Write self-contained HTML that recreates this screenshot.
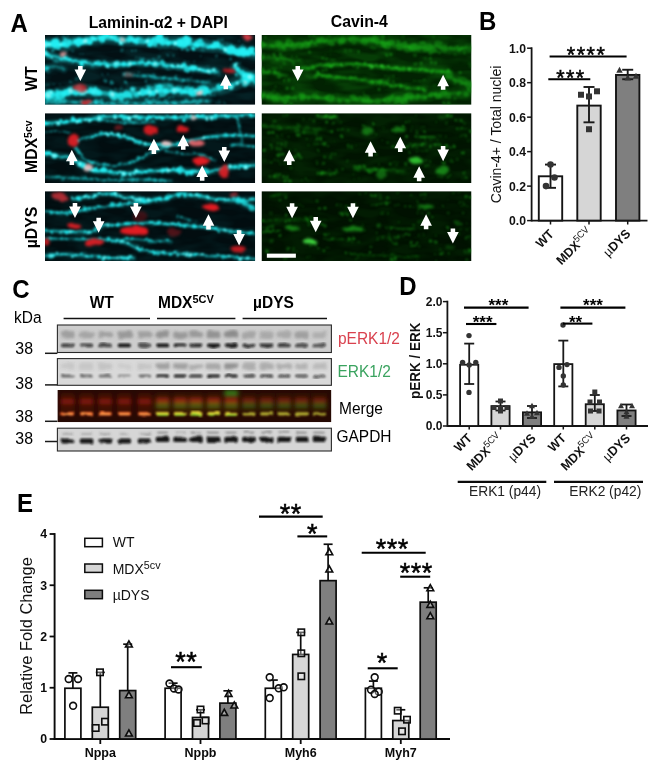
<!DOCTYPE html>
<html lang="en"><head><meta charset="utf-8"><title>Figure</title>
<style>
html,body{margin:0;padding:0;background:#fff;}
body{width:666px;height:774px;overflow:hidden;}
svg{display:block;filter:blur(0.35px);font-family:'Liberation Sans', sans-serif;}
</style></head>
<body>
<svg width="666" height="774" viewBox="0 0 666 774">
<rect width="666" height="774" fill="#fff"/>
<text x="10.4" y="32" font-size="24" font-weight="bold" text-anchor="start" fill="#000" transform="translate(10.4 32) scale(1 1.04) translate(-10.4 -32)">A</text>
<text x="479" y="30.2" font-size="24" font-weight="bold" text-anchor="start" fill="#000" transform="translate(479 30.2) scale(1 1.04) translate(-479 -30.2)">B</text>
<text x="12.2" y="297.8" font-size="24" font-weight="bold" text-anchor="start" fill="#000" transform="translate(12.2 297.8) scale(1 1.04) translate(-12.2 -297.8)">C</text>
<text x="399.2" y="295.2" font-size="24" font-weight="bold" text-anchor="start" fill="#000" transform="translate(399.2 295.2) scale(1 1.04) translate(-399.2 -295.2)">D</text>
<text x="17" y="512.3" font-size="24" font-weight="bold" text-anchor="start" fill="#000" transform="translate(17 512.3) scale(1 1.04) translate(-17 -512.3)">E</text>
<text x="158.3" y="28" font-size="15.7" font-weight="bold" text-anchor="middle" fill="#000" transform="translate(158.3 28) scale(1 1.04) translate(-158.3 -28)">Laminin-α2 + DAPI</text>
<text x="359.4" y="27.5" font-size="15.8" font-weight="bold" text-anchor="middle" fill="#000" transform="translate(359.4 27.5) scale(1 1.04) translate(-359.4 -27.5)">Cavin-4</text>
<text x="37" y="91" font-size="16" font-weight="bold" text-anchor="start" fill="#000" transform="rotate(-90 37 91) translate(37 91) scale(1 1.04) translate(-37 -91)">WT</text>
<text x="37.4" y="173" font-size="15.8" font-weight="bold" transform="rotate(-90 37.4 173) translate(37.4 173) scale(1 1.04) translate(-37.4 -173)">MDX<tspan font-size="10.5" dy="-5.3">5cv</tspan></text>
<text x="37.4" y="248.3" font-size="15.8" font-weight="bold" text-anchor="start" fill="#000" transform="rotate(-90 37.4 248.3) translate(37.4 248.3) scale(1 1.04) translate(-37.4 -248.3)">µDYS</text>
<defs><filter id="fb" x="-5%" y="-20%" width="110%" height="140%" color-interpolation-filters="sRGB"><feTurbulence type="fractalNoise" baseFrequency="0.03 0.05" numOctaves="2" seed="7" result="n"/><feDisplacementMap in="SourceGraphic" in2="n" scale="10" xChannelSelector="R" yChannelSelector="G" result="d"/><feGaussianBlur in="d" stdDeviation="4.2"/></filter><filter id="fh" x="0" y="0" width="100%" height="100%" color-interpolation-filters="sRGB"><feTurbulence type="fractalNoise" baseFrequency="0.012 0.035" numOctaves="2" seed="11" result="n"/><feColorMatrix in="n" type="matrix" values="0 0 0 0 0  0 0 0 0 0  0 0 0 0 0  0 3.0 0 0 -1.1" result="m"/><feComposite in="SourceGraphic" in2="m" operator="in"/></filter><filter id="fr" x="-30%" y="-30%" width="160%" height="160%" color-interpolation-filters="sRGB"><feTurbulence type="fractalNoise" baseFrequency="0.03" numOctaves="2" seed="5" result="n"/><feDisplacementMap in="SourceGraphic" in2="n" scale="16" xChannelSelector="R" yChannelSelector="G" result="d"/><feGaussianBlur in="d" stdDeviation="5"/></filter><filter id="fa" x="-20%" y="-20%" width="140%" height="140%"><feGaussianBlur stdDeviation="1.3"/></filter><clipPath id="cpA1"><rect x="45" y="35" width="210.2" height="69.8"/></clipPath><clipPath id="cpA2"><rect x="45" y="113.2" width="210.2" height="69.8"/></clipPath><clipPath id="cpA3"><rect x="45" y="191.2" width="210.2" height="69.8"/></clipPath><clipPath id="cpB1"><rect x="261.5" y="35" width="210" height="69.8"/></clipPath><clipPath id="cpB2"><rect x="261.5" y="113.2" width="210" height="69.8"/></clipPath><clipPath id="cpB3"><rect x="261.5" y="191.2" width="210" height="69.8"/></clipPath></defs><g clip-path="url(#cpA1)"><rect x="45" y="35" width="210.2" height="69.8" fill="#031014"/><g transform="translate(45 35) scale(0.31562)"><rect x="0" y="0" width="666" height="222" fill="#22f0f4" fill-opacity="0.08" filter="url(#fh)"/><g filter="url(#fb)"><rect x="-40" y="-40" width="746" height="302" fill="none"/><path d="M0.0 25.0C8.3 25.8 33.3 30.5 50.0 30.0C66.7 29.5 83.3 25.0 100.0 22.0C116.7 19.0 133.3 14.0 150.0 12.0C166.7 10.0 185.0 9.5 200.0 10.0C215.0 10.5 226.7 13.7 240.0 15.0C253.3 16.3 265.0 17.2 280.0 18.0C295.0 18.8 313.3 18.8 330.0 20.0C346.7 21.2 365.0 24.7 380.0 25.0C395.0 25.3 405.0 21.2 420.0 22.0C435.0 22.8 453.3 27.8 470.0 30.0C486.7 32.2 505.0 33.3 520.0 35.0C535.0 36.7 546.7 37.8 560.0 40.0C573.3 42.2 586.7 45.5 600.0 48.0C613.3 50.5 629.0 53.0 640.0 55.0C651.0 57.0 661.7 59.2 666.0 60.0" fill="none" stroke="#22f0f4" stroke-width="38.6" stroke-opacity="0.19" stroke-linecap="round" stroke-linejoin="round"/><path d="M0.0 25.0C8.3 25.8 33.3 30.5 50.0 30.0C66.7 29.5 83.3 25.0 100.0 22.0C116.7 19.0 133.3 14.0 150.0 12.0C166.7 10.0 185.0 9.5 200.0 10.0C215.0 10.5 226.7 13.7 240.0 15.0C253.3 16.3 265.0 17.2 280.0 18.0C295.0 18.8 313.3 18.8 330.0 20.0C346.7 21.2 365.0 24.7 380.0 25.0C395.0 25.3 405.0 21.2 420.0 22.0C435.0 22.8 453.3 27.8 470.0 30.0C486.7 32.2 505.0 33.3 520.0 35.0C535.0 36.7 546.7 37.8 560.0 40.0C573.3 42.2 586.7 45.5 600.0 48.0C613.3 50.5 629.0 53.0 640.0 55.0C651.0 57.0 661.7 59.2 666.0 60.0" fill="none" stroke="#22f0f4" stroke-width="14.0" stroke-opacity="0.66" stroke-linecap="round" stroke-linejoin="round"/><path d="M0.0 60.0C10.0 62.5 41.7 70.8 60.0 75.0C78.3 79.2 93.3 82.2 110.0 85.0C126.7 87.8 141.7 90.3 160.0 92.0C178.3 93.7 200.0 95.3 220.0 95.0C240.0 94.7 260.0 91.2 280.0 90.0C300.0 88.8 320.0 86.7 340.0 88.0C360.0 89.3 380.0 95.2 400.0 98.0C420.0 100.8 441.7 102.7 460.0 105.0C478.3 107.3 495.8 109.8 510.0 112.0C524.2 114.2 539.2 117.0 545.0 118.0" fill="none" stroke="#22f0f4" stroke-width="26.7" stroke-opacity="0.18" stroke-linecap="round" stroke-linejoin="round"/><path d="M0.0 60.0C10.0 62.5 41.7 70.8 60.0 75.0C78.3 79.2 93.3 82.2 110.0 85.0C126.7 87.8 141.7 90.3 160.0 92.0C178.3 93.7 200.0 95.3 220.0 95.0C240.0 94.7 260.0 91.2 280.0 90.0C300.0 88.8 320.0 86.7 340.0 88.0C360.0 89.3 380.0 95.2 400.0 98.0C420.0 100.8 441.7 102.7 460.0 105.0C478.3 107.3 495.8 109.8 510.0 112.0C524.2 114.2 539.2 117.0 545.0 118.0" fill="none" stroke="#22f0f4" stroke-width="9.7" stroke-opacity="0.63" stroke-linecap="round" stroke-linejoin="round"/><path d="M250.0 125.0C258.3 125.8 281.7 128.3 300.0 130.0C318.3 131.7 340.0 133.3 360.0 135.0C380.0 136.7 400.0 137.8 420.0 140.0C440.0 142.2 463.3 146.3 480.0 148.0C496.7 149.7 513.3 149.7 520.0 150.0" fill="none" stroke="#22f0f4" stroke-width="17.8" stroke-opacity="0.10" stroke-linecap="round" stroke-linejoin="round"/><path d="M250.0 125.0C258.3 125.8 281.7 128.3 300.0 130.0C318.3 131.7 340.0 133.3 360.0 135.0C380.0 136.7 400.0 137.8 420.0 140.0C440.0 142.2 463.3 146.3 480.0 148.0C496.7 149.7 513.3 149.7 520.0 150.0" fill="none" stroke="#22f0f4" stroke-width="6.5" stroke-opacity="0.35" stroke-linecap="round" stroke-linejoin="round"/><path d="M0.0 190.0C8.3 189.2 33.3 187.0 50.0 185.0C66.7 183.0 81.7 178.8 100.0 178.0C118.3 177.2 138.3 178.0 160.0 180.0C181.7 182.0 206.7 189.2 230.0 190.0C253.3 190.8 278.3 186.7 300.0 185.0C321.7 183.3 340.0 181.2 360.0 180.0C380.0 178.8 400.0 178.0 420.0 178.0C440.0 178.0 460.0 181.0 480.0 180.0C500.0 179.0 520.0 176.2 540.0 172.0C560.0 167.8 583.3 160.3 600.0 155.0C616.7 149.7 629.0 144.2 640.0 140.0C651.0 135.8 661.7 131.7 666.0 130.0" fill="none" stroke="#22f0f4" stroke-width="41.6" stroke-opacity="0.16" stroke-linecap="round" stroke-linejoin="round"/><path d="M0.0 190.0C8.3 189.2 33.3 187.0 50.0 185.0C66.7 183.0 81.7 178.8 100.0 178.0C118.3 177.2 138.3 178.0 160.0 180.0C181.7 182.0 206.7 189.2 230.0 190.0C253.3 190.8 278.3 186.7 300.0 185.0C321.7 183.3 340.0 181.2 360.0 180.0C380.0 178.8 400.0 178.0 420.0 178.0C440.0 178.0 460.0 181.0 480.0 180.0C500.0 179.0 520.0 176.2 540.0 172.0C560.0 167.8 583.3 160.3 600.0 155.0C616.7 149.7 629.0 144.2 640.0 140.0C651.0 135.8 661.7 131.7 666.0 130.0" fill="none" stroke="#22f0f4" stroke-width="15.1" stroke-opacity="0.56" stroke-linecap="round" stroke-linejoin="round"/><path d="M600.0 105.0C606.7 108.8 629.0 120.5 640.0 128.0C651.0 135.5 661.7 146.3 666.0 150.0" fill="none" stroke="#22f0f4" stroke-width="35.6" stroke-opacity="0.16" stroke-linecap="round" stroke-linejoin="round"/><path d="M600.0 105.0C606.7 108.8 629.0 120.5 640.0 128.0C651.0 135.5 661.7 146.3 666.0 150.0" fill="none" stroke="#22f0f4" stroke-width="13.0" stroke-opacity="0.56" stroke-linecap="round" stroke-linejoin="round"/><path d="M0.0 105.0C5.0 104.2 20.0 99.2 30.0 100.0C40.0 100.8 55.0 108.3 60.0 110.0" fill="none" stroke="#22f0f4" stroke-width="23.8" stroke-opacity="0.10" stroke-linecap="round" stroke-linejoin="round"/><path d="M0.0 105.0C5.0 104.2 20.0 99.2 30.0 100.0C40.0 100.8 55.0 108.3 60.0 110.0" fill="none" stroke="#22f0f4" stroke-width="8.6" stroke-opacity="0.35" stroke-linecap="round" stroke-linejoin="round"/><path d="M330.0 165.0C338.3 164.2 363.3 159.5 380.0 160.0C396.7 160.5 421.7 166.7 430.0 168.0" fill="none" stroke="#22f0f4" stroke-width="23.8" stroke-opacity="0.09" stroke-linecap="round" stroke-linejoin="round"/><path d="M330.0 165.0C338.3 164.2 363.3 159.5 380.0 160.0C396.7 160.5 421.7 166.7 430.0 168.0" fill="none" stroke="#22f0f4" stroke-width="8.6" stroke-opacity="0.32" stroke-linecap="round" stroke-linejoin="round"/><path d="M0.0 215.0C13.3 214.5 46.7 211.8 80.0 212.0C113.3 212.2 146.7 215.7 200.0 216.0C253.3 216.3 346.7 215.0 400.0 214.0C453.3 213.0 500.0 210.7 520.0 210.0" fill="none" stroke="#22f0f4" stroke-width="23.8" stroke-opacity="0.09" stroke-linecap="round" stroke-linejoin="round"/><path d="M0.0 215.0C13.3 214.5 46.7 211.8 80.0 212.0C113.3 212.2 146.7 215.7 200.0 216.0C253.3 216.3 346.7 215.0 400.0 214.0C453.3 213.0 500.0 210.7 520.0 210.0" fill="none" stroke="#22f0f4" stroke-width="8.6" stroke-opacity="0.32" stroke-linecap="round" stroke-linejoin="round"/><path d="M-2 31h.1M68 26h.1M349 22h.1" fill="none" stroke="#22f0f4" stroke-width="29.8" stroke-opacity="0.76" stroke-linecap="round"/><path d="M-2 31h.1M429 25h.1M450 18h.1M630 54h.1" fill="none" stroke="#b4ffff" stroke-width="16.4" stroke-opacity="0.76" stroke-linecap="round"/><path d="M11 30h.1M48 29h.1M58 30h.1M142 23h.1M239 24h.1M279 14h.1M287 19h.1M323 19h.1M332 30h.1M392 26h.1M413 26h.1M481 32h.1M531 36h.1M570 47h.1M642 59h.1" fill="none" stroke="#22f0f4" stroke-width="17.6" stroke-opacity="0.95" stroke-linecap="round"/><path d="M11 30h.1M48 29h.1M97 20h.1M118 22h.1M152 11h.1M239 24h.1M323 19h.1M413 26h.1M570 47h.1" fill="none" stroke="#b4ffff" stroke-width="9.7" stroke-opacity="0.76" stroke-linecap="round"/><path d="M17 31h.1M159 14h.1M199 2h.1M210 5h.1M227 17h.1M468 44h.1M519 38h.1" fill="none" stroke="#22f0f4" stroke-width="12.3" stroke-opacity="0.95" stroke-linecap="round"/><path d="M17 31h.1M210 5h.1M420 23h.1M578 53h.1" fill="none" stroke="#b4ffff" stroke-width="6.8" stroke-opacity="0.76" stroke-linecap="round"/><path d="M33 25h.1M108 23h.1M364 10h.1M429 25h.1M441 26h.1M450 18h.1M590 47h.1M630 54h.1" fill="none" stroke="#22f0f4" stroke-width="29.8" stroke-opacity="0.95" stroke-linecap="round"/><path d="M39 36h.1M128 19h.1M271 13h.1M491 26h.1M622 50h.1" fill="none" stroke="#22f0f4" stroke-width="23.7" stroke-opacity="0.76" stroke-linecap="round"/><path d="M97 20h.1M118 22h.1M152 11h.1M191 -0h.1M218 8h.1M338 23h.1M373 25h.1M382 19h.1" fill="none" stroke="#22f0f4" stroke-width="17.6" stroke-opacity="0.76" stroke-linecap="round"/><path d="M128 19h.1" fill="none" stroke="#b4ffff" stroke-width="13.0" stroke-opacity="0.76" stroke-linecap="round"/><path d="M181 11h.1M543 29h.1M609 57h.1M654 48h.1" fill="none" stroke="#22f0f4" stroke-width="23.7" stroke-opacity="0.95" stroke-linecap="round"/><path d="M297 12h.1M420 23h.1M549 41h.1M578 53h.1" fill="none" stroke="#22f0f4" stroke-width="12.3" stroke-opacity="0.76" stroke-linecap="round"/><path d="M-0 57h.1M228 91h.1M269 92h.1M348 92h.1M450 109h.1" fill="none" stroke="#22f0f4" stroke-width="20.7" stroke-opacity="0.72" stroke-linecap="round"/><path d="M-0 57h.1M228 91h.1M269 92h.1M348 92h.1M469 104h.1" fill="none" stroke="#b4ffff" stroke-width="11.4" stroke-opacity="0.72" stroke-linecap="round"/><path d="M11 66h.1M169 88h.1M193 92h.1M322 91h.1M373 86h.1M521 115h.1" fill="none" stroke="#22f0f4" stroke-width="16.4" stroke-opacity="0.72" stroke-linecap="round"/><path d="M21 72h.1M49 75h.1M262 91h.1" fill="none" stroke="#22f0f4" stroke-width="8.5" stroke-opacity="0.72" stroke-linecap="round"/><path d="M21 72h.1M387 100h.1" fill="none" stroke="#b4ffff" stroke-width="4.7" stroke-opacity="0.72" stroke-linecap="round"/><path d="M60 70h.1M78 78h.1M178 93h.1M198 100h.1M219 90h.1M282 89h.1M329 87h.1M340 89h.1M402 97h.1M421 98h.1M433 99h.1M479 104h.1M489 109h.1M536 109h.1" fill="none" stroke="#22f0f4" stroke-width="12.2" stroke-opacity="0.9" stroke-linecap="round"/><path d="M60 70h.1M128 85h.1M160 89h.1M198 100h.1M219 90h.1M329 87h.1M402 97h.1M408 100h.1M421 98h.1M433 99h.1M489 109h.1M500 112h.1M510 116h.1M536 109h.1" fill="none" stroke="#b4ffff" stroke-width="6.7" stroke-opacity="0.72" stroke-linecap="round"/><path d="M69 75h.1M97 83h.1M112 89h.1M128 85h.1M160 89h.1M301 87h.1M377 97h.1M408 100h.1M500 112h.1M510 116h.1" fill="none" stroke="#22f0f4" stroke-width="12.2" stroke-opacity="0.72" stroke-linecap="round"/><path d="M87 85h.1M311 85h.1M387 100h.1M459 106h.1" fill="none" stroke="#22f0f4" stroke-width="8.5" stroke-opacity="0.9" stroke-linecap="round"/><path d="M116 92h.1M249 92h.1M442 93h.1" fill="none" stroke="#22f0f4" stroke-width="16.4" stroke-opacity="0.9" stroke-linecap="round"/><path d="M469 104h.1" fill="none" stroke="#22f0f4" stroke-width="20.7" stroke-opacity="0.9" stroke-linecap="round"/><path d="M521 115h.1" fill="none" stroke="#b4ffff" stroke-width="9.0" stroke-opacity="0.72" stroke-linecap="round"/><path d="M252 124h.1M312 129h.1" fill="none" stroke="#22f0f4" stroke-width="10.9" stroke-opacity="0.5" stroke-linecap="round"/><path d="M261 122h.1M483 146h.1" fill="none" stroke="#22f0f4" stroke-width="8.1" stroke-opacity="0.4" stroke-linecap="round"/><path d="M270 124h.1M279 126h.1M332 132h.1M392 141h.1M397 140h.1M417 140h.1M510 153h.1" fill="none" stroke="#22f0f4" stroke-width="8.1" stroke-opacity="0.5" stroke-linecap="round"/><path d="M292 130h.1M359 137h.1" fill="none" stroke="#22f0f4" stroke-width="5.7" stroke-opacity="0.4" stroke-linecap="round"/><path d="M320 132h.1M453 139h.1" fill="none" stroke="#22f0f4" stroke-width="5.7" stroke-opacity="0.5" stroke-linecap="round"/><path d="M343 131h.1M350 134h.1" fill="none" stroke="#22f0f4" stroke-width="13.8" stroke-opacity="0.4" stroke-linecap="round"/><path d="M377 137h.1" fill="none" stroke="#22f0f4" stroke-width="13.8" stroke-opacity="0.5" stroke-linecap="round"/><path d="M413 134h.1M439 143h.1M499 150h.1" fill="none" stroke="#22f0f4" stroke-width="10.9" stroke-opacity="0.4" stroke-linecap="round"/><path d="M-3 192h.1M38 178h.1M523 180h.1" fill="none" stroke="#22f0f4" stroke-width="13.2" stroke-opacity="0.64" stroke-linecap="round"/><path d="M11 191h.1M49 191h.1M109 176h.1M469 180h.1M501 175h.1M647 137h.1" fill="none" stroke="#22f0f4" stroke-width="32.1" stroke-opacity="0.8" stroke-linecap="round"/><path d="M11 191h.1M109 176h.1M160 179h.1" fill="none" stroke="#b4ffff" stroke-width="17.7" stroke-opacity="0.64" stroke-linecap="round"/><path d="M19 182h.1M61 186h.1M98 180h.1M119 186h.1M130 179h.1M172 184h.1M342 185h.1M351 178h.1M388 176h.1M431 180h.1M512 173h.1M551 164h.1M589 165h.1" fill="none" stroke="#22f0f4" stroke-width="18.9" stroke-opacity="0.8" stroke-linecap="round"/><path d="M19 182h.1M119 186h.1M130 179h.1M278 173h.1M351 178h.1M571 164h.1M589 165h.1" fill="none" stroke="#b4ffff" stroke-width="10.4" stroke-opacity="0.64" stroke-linecap="round"/><path d="M33 196h.1M81 176h.1M450 175h.1M634 151h.1" fill="none" stroke="#22f0f4" stroke-width="25.5" stroke-opacity="0.64" stroke-linecap="round"/><path d="M70 181h.1M151 177h.1M213 187h.1M219 192h.1M242 196h.1M259 188h.1M313 183h.1M329 181h.1M362 167h.1M411 175h.1" fill="none" stroke="#22f0f4" stroke-width="25.5" stroke-opacity="0.8" stroke-linecap="round"/><path d="M81 176h.1M151 177h.1M213 187h.1M329 181h.1M411 175h.1M634 151h.1" fill="none" stroke="#b4ffff" stroke-width="14.0" stroke-opacity="0.64" stroke-linecap="round"/><path d="M143 175h.1M278 173h.1M290 191h.1M322 181h.1M463 183h.1M490 171h.1M571 164h.1M637 129h.1" fill="none" stroke="#22f0f4" stroke-width="18.9" stroke-opacity="0.64" stroke-linecap="round"/><path d="M160 179h.1M372 181h.1" fill="none" stroke="#22f0f4" stroke-width="32.1" stroke-opacity="0.64" stroke-linecap="round"/><path d="M271 195h.1M299 184h.1M381 178h.1M421 176h.1M442 181h.1M479 176h.1M609 152h.1M656 133h.1" fill="none" stroke="#22f0f4" stroke-width="13.2" stroke-opacity="0.8" stroke-linecap="round"/><path d="M299 184h.1M421 176h.1M479 176h.1M609 152h.1M656 133h.1" fill="none" stroke="#b4ffff" stroke-width="7.3" stroke-opacity="0.64" stroke-linecap="round"/><path d="M604 96h.1M610 109h.1M631 129h.1" fill="none" stroke="#22f0f4" stroke-width="16.2" stroke-opacity="0.8" stroke-linecap="round"/><path d="M604 96h.1M631 129h.1" fill="none" stroke="#b4ffff" stroke-width="8.9" stroke-opacity="0.64" stroke-linecap="round"/><path d="M607 125h.1" fill="none" stroke="#22f0f4" stroke-width="11.3" stroke-opacity="0.8" stroke-linecap="round"/><path d="M623 119h.1" fill="none" stroke="#22f0f4" stroke-width="16.2" stroke-opacity="0.64" stroke-linecap="round"/><path d="M635 130h.1" fill="none" stroke="#22f0f4" stroke-width="27.5" stroke-opacity="0.64" stroke-linecap="round"/><path d="M649 133h.1" fill="none" stroke="#22f0f4" stroke-width="27.5" stroke-opacity="0.8" stroke-linecap="round"/><path d="M649 133h.1" fill="none" stroke="#b4ffff" stroke-width="15.1" stroke-opacity="0.64" stroke-linecap="round"/><path d="M0 105h.1" fill="none" stroke="#22f0f4" stroke-width="18.4" stroke-opacity="0.5" stroke-linecap="round"/><path d="M9 103h.1" fill="none" stroke="#22f0f4" stroke-width="10.8" stroke-opacity="0.5" stroke-linecap="round"/><path d="M330 165h.1M418 166h.1M49 213h.1M92 213h.1M116 211h.1M194 217h.1M220 220h.1M245 214h.1M285 217h.1M316 216h.1M389 219h.1M492 211h.1M512 209h.1" fill="none" stroke="#22f0f4" stroke-width="10.8" stroke-opacity="0.45" stroke-linecap="round"/><path d="M340 165h.1M360 161h.1M3 216h.1M173 210h.1M184 213h.1M234 214h.1M262 210h.1M363 214h.1M370 218h.1M457 213h.1" fill="none" stroke="#22f0f4" stroke-width="7.6" stroke-opacity="0.45" stroke-linecap="round"/><path d="M347 156h.1M409 166h.1M31 208h.1M100 214h.1M145 213h.1M292 220h.1M307 222h.1M462 214h.1" fill="none" stroke="#22f0f4" stroke-width="10.8" stroke-opacity="0.36" stroke-linecap="round"/><path d="M369 161h.1" fill="none" stroke="#22f0f4" stroke-width="7.6" stroke-opacity="0.36" stroke-linecap="round"/><path d="M377 161h.1M22 211h.1M346 206h.1M356 215h.1" fill="none" stroke="#22f0f4" stroke-width="14.6" stroke-opacity="0.36" stroke-linecap="round"/><path d="M398 162h.1M38 213h.1M124 222h.1M137 216h.1M334 214h.1M381 211h.1" fill="none" stroke="#22f0f4" stroke-width="18.4" stroke-opacity="0.36" stroke-linecap="round"/><path d="M8 208h.1M60 211h.1M212 218h.1M257 218h.1M330 213h.1M409 216h.1M436 214h.1M472 210h.1M481 218h.1" fill="none" stroke="#22f0f4" stroke-width="14.6" stroke-opacity="0.45" stroke-linecap="round"/><path d="M163 211h.1M449 209h.1" fill="none" stroke="#22f0f4" stroke-width="18.4" stroke-opacity="0.45" stroke-linecap="round"/><path d="M613 71h.1M631 71h.1M7 30h.1M182 125h.1M199 124h.1M297 118h.1M80 19h.1M119 107h.1M407 43h.1M417 44h.1M405 197h.1M92 32h.1M104 34h.1M493 171h.1M510 173h.1M39 7h.1M53 9h.1M289 71h.1M299 72h.1" fill="none" stroke="#22f0f4" stroke-width="6.0" stroke-opacity="0.3" stroke-linecap="round"/><path d="M358 201h.1M254 88h.1M329 172h.1M347 170h.1M387 64h.1M407 65h.1M393 200h.1M560 35h.1M578 32h.1M68 52h.1M88 51h.1M168 2h.1M99 139h.1M111 136h.1M403 214h.1M416 215h.1M553 15h.1M562 15h.1" fill="none" stroke="#22f0f4" stroke-width="8.0" stroke-opacity="0.3" stroke-linecap="round"/><path d="M634 164h.1M651 161h.1M615 20h.1M253 90h.1M187 135h.1M168 95h.1M569 41h.1M584 39h.1M28 156h.1M47 157h.1M493 64h.1M111 60h.1M120 60h.1M365 201h.1M453 117h.1M467 119h.1M261 162h.1M457 84h.1M474 84h.1" fill="none" stroke="#22f0f4" stroke-width="6.0" stroke-opacity="0.2" stroke-linecap="round"/><path d="M162 216h.1M180 216h.1M435 44h.1M450 47h.1M24 49h.1M180 22h.1M321 205h.1M255 150h.1M330 194h.1M179 207h.1M192 146h.1M210 149h.1M306 78h.1" fill="none" stroke="#22f0f4" stroke-width="11.0" stroke-opacity="0.45" stroke-linecap="round"/><path d="M543 67h.1M392 108h.1M585 60h.1M501 48h.1M11 117h.1M78 24h.1M86 25h.1M223 169h.1M241 171h.1M158 216h.1M177 219h.1M552 179h.1M552 215h.1M570 216h.1M227 15h.1M240 13h.1" fill="none" stroke="#22f0f4" stroke-width="11.0" stroke-opacity="0.2" stroke-linecap="round"/><path d="M82 150h.1M447 205h.1M601 45h.1M610 46h.1M493 19h.1M4 53h.1M362 70h.1M29 81h.1M38 81h.1M244 47h.1M623 34h.1M635 36h.1" fill="none" stroke="#22f0f4" stroke-width="11.0" stroke-opacity="0.3" stroke-linecap="round"/><path d="M110 20h.1M120 17h.1M309 74h.1M251 23h.1M345 192h.1M364 195h.1M276 50h.1M287 49h.1M343 76h.1M330 7h.1M59 4h.1M72 4h.1" fill="none" stroke="#22f0f4" stroke-width="6.0" stroke-opacity="0.45" stroke-linecap="round"/><path d="M443 84h.1M1 160h.1M10 158h.1M618 70h.1M62 60h.1M344 123h.1M448 165h.1M457 165h.1M542 215h.1M462 136h.1M528 192h.1M539 192h.1M600 92h.1M618 93h.1" fill="none" stroke="#22f0f4" stroke-width="8.0" stroke-opacity="0.2" stroke-linecap="round"/><path d="M71 37h.1M598 37h.1M320 147h.1M274 168h.1M588 76h.1" fill="none" stroke="#22f0f4" stroke-width="8.0" stroke-opacity="0.45" stroke-linecap="round"/></g><g filter="url(#fr)"><rect x="-40" y="-40" width="746" height="302" fill="none"/><ellipse cx="110" cy="166" rx="22" ry="13" fill="#d01c22" fill-opacity="0.8"/><ellipse cx="585" cy="112" rx="22" ry="9" fill="#d01c22" fill-opacity="0.85"/><ellipse cx="130" cy="214" rx="20" ry="7" fill="#d81c22" fill-opacity="0.9"/><ellipse cx="640" cy="5" rx="14" ry="8" fill="#e8404a" fill-opacity="0.9"/><ellipse cx="490" cy="183" rx="10" ry="8" fill="#ffd0d0" fill-opacity="0.9"/><ellipse cx="55" cy="58" rx="11" ry="9" fill="#f0a0a0" fill-opacity="0.8"/><ellipse cx="245" cy="15" rx="11" ry="8" fill="#f0c0c0" fill-opacity="0.8"/><ellipse cx="265" cy="125" rx="14" ry="8" fill="#b04040" fill-opacity="0.5"/></g><g filter="url(#fa)"><path d="M112.0 146.0L130.5 109.5L119.2 109.5L119.2 98.0L104.8 98.0L104.8 109.5L93.5 109.5Z" fill="#fff"/><path d="M573.0 124.0L591.5 160.5L580.2 160.5L580.2 172.0L565.8 172.0L565.8 160.5L554.5 160.5Z" fill="#fff"/></g></g></g><g clip-path="url(#cpA2)"><rect x="45" y="113.2" width="210.2" height="69.8" fill="#020d10"/><g transform="translate(45 113.2) scale(0.31562)"><rect x="0" y="0" width="666" height="222" fill="#22f0f4" fill-opacity="0.05" filter="url(#fh)"/><g filter="url(#fb)"><rect x="-40" y="-40" width="746" height="302" fill="none"/><path d="M0.0 32.0C10.0 31.3 40.0 30.0 60.0 28.0C80.0 26.0 100.0 22.7 120.0 20.0C140.0 17.3 160.0 13.7 180.0 12.0C200.0 10.3 220.0 9.7 240.0 10.0C260.0 10.3 280.0 13.7 300.0 14.0C320.0 14.3 340.0 12.0 360.0 12.0C380.0 12.0 401.7 14.0 420.0 14.0C438.3 14.0 453.3 12.7 470.0 12.0C486.7 11.3 501.7 10.7 520.0 10.0C538.3 9.3 555.7 8.7 580.0 8.0C604.3 7.3 651.7 6.3 666.0 6.0" fill="none" stroke="#22f0f4" stroke-width="20.8" stroke-opacity="0.15" stroke-linecap="round" stroke-linejoin="round"/><path d="M0.0 32.0C10.0 31.3 40.0 30.0 60.0 28.0C80.0 26.0 100.0 22.7 120.0 20.0C140.0 17.3 160.0 13.7 180.0 12.0C200.0 10.3 220.0 9.7 240.0 10.0C260.0 10.3 280.0 13.7 300.0 14.0C320.0 14.3 340.0 12.0 360.0 12.0C380.0 12.0 401.7 14.0 420.0 14.0C438.3 14.0 453.3 12.7 470.0 12.0C486.7 11.3 501.7 10.7 520.0 10.0C538.3 9.3 555.7 8.7 580.0 8.0C604.3 7.3 651.7 6.3 666.0 6.0" fill="none" stroke="#22f0f4" stroke-width="7.6" stroke-opacity="0.66" stroke-linecap="round" stroke-linejoin="round"/><path d="M170.0 20.0C180.0 21.3 210.0 26.3 230.0 28.0C250.0 29.7 270.0 30.0 290.0 30.0C310.0 30.0 340.0 28.3 350.0 28.0" fill="none" stroke="#22f0f4" stroke-width="14.9" stroke-opacity="0.08" stroke-linecap="round" stroke-linejoin="round"/><path d="M170.0 20.0C180.0 21.3 210.0 26.3 230.0 28.0C250.0 29.7 270.0 30.0 290.0 30.0C310.0 30.0 340.0 28.3 350.0 28.0" fill="none" stroke="#22f0f4" stroke-width="5.4" stroke-opacity="0.35" stroke-linecap="round" stroke-linejoin="round"/><path d="M100.0 88.0C106.7 85.8 125.0 78.8 140.0 75.0C155.0 71.2 175.0 65.8 190.0 65.0C205.0 64.2 216.7 67.5 230.0 70.0C243.3 72.5 256.7 75.8 270.0 80.0C283.3 84.2 298.3 91.7 310.0 95.0C321.7 98.3 326.7 98.8 340.0 100.0C353.3 101.2 371.7 103.7 390.0 102.0C408.3 100.3 428.3 94.5 450.0 90.0C471.7 85.5 496.7 78.3 520.0 75.0C543.3 71.7 565.7 70.5 590.0 70.0C614.3 69.5 653.3 71.7 666.0 72.0" fill="none" stroke="#22f0f4" stroke-width="17.8" stroke-opacity="0.14" stroke-linecap="round" stroke-linejoin="round"/><path d="M100.0 88.0C106.7 85.8 125.0 78.8 140.0 75.0C155.0 71.2 175.0 65.8 190.0 65.0C205.0 64.2 216.7 67.5 230.0 70.0C243.3 72.5 256.7 75.8 270.0 80.0C283.3 84.2 298.3 91.7 310.0 95.0C321.7 98.3 326.7 98.8 340.0 100.0C353.3 101.2 371.7 103.7 390.0 102.0C408.3 100.3 428.3 94.5 450.0 90.0C471.7 85.5 496.7 78.3 520.0 75.0C543.3 71.7 565.7 70.5 590.0 70.0C614.3 69.5 653.3 71.7 666.0 72.0" fill="none" stroke="#22f0f4" stroke-width="6.5" stroke-opacity="0.59" stroke-linecap="round" stroke-linejoin="round"/><path d="M0.0 130.0C6.7 130.8 26.7 133.3 40.0 135.0C53.3 136.7 68.3 135.8 80.0 140.0C91.7 144.2 98.3 153.3 110.0 160.0C121.7 166.7 135.0 175.8 150.0 180.0C165.0 184.2 181.7 183.3 200.0 185.0C218.3 186.7 240.0 190.0 260.0 190.0C280.0 190.0 296.7 186.7 320.0 185.0C343.3 183.3 376.7 180.0 400.0 180.0C423.3 180.0 436.7 184.7 460.0 185.0C483.3 185.3 516.7 184.5 540.0 182.0C563.3 179.5 579.0 172.8 600.0 170.0C621.0 167.2 655.0 165.8 666.0 165.0" fill="none" stroke="#22f0f4" stroke-width="23.8" stroke-opacity="0.14" stroke-linecap="round" stroke-linejoin="round"/><path d="M0.0 130.0C6.7 130.8 26.7 133.3 40.0 135.0C53.3 136.7 68.3 135.8 80.0 140.0C91.7 144.2 98.3 153.3 110.0 160.0C121.7 166.7 135.0 175.8 150.0 180.0C165.0 184.2 181.7 183.3 200.0 185.0C218.3 186.7 240.0 190.0 260.0 190.0C280.0 190.0 296.7 186.7 320.0 185.0C343.3 183.3 376.7 180.0 400.0 180.0C423.3 180.0 436.7 184.7 460.0 185.0C483.3 185.3 516.7 184.5 540.0 182.0C563.3 179.5 579.0 172.8 600.0 170.0C621.0 167.2 655.0 165.8 666.0 165.0" fill="none" stroke="#22f0f4" stroke-width="8.6" stroke-opacity="0.63" stroke-linecap="round" stroke-linejoin="round"/><path d="M95.0 110.0C100.8 116.7 112.5 140.8 130.0 150.0C147.5 159.2 178.3 163.3 200.0 165.0C221.7 166.7 241.7 164.2 260.0 160.0C278.3 155.8 295.0 146.7 310.0 140.0C325.0 133.3 336.7 125.8 350.0 120.0C363.3 114.2 383.3 107.5 390.0 105.0" fill="none" stroke="#22f0f4" stroke-width="14.9" stroke-opacity="0.10" stroke-linecap="round" stroke-linejoin="round"/><path d="M95.0 110.0C100.8 116.7 112.5 140.8 130.0 150.0C147.5 159.2 178.3 163.3 200.0 165.0C221.7 166.7 241.7 164.2 260.0 160.0C278.3 155.8 295.0 146.7 310.0 140.0C325.0 133.3 336.7 125.8 350.0 120.0C363.3 114.2 383.3 107.5 390.0 105.0" fill="none" stroke="#22f0f4" stroke-width="5.4" stroke-opacity="0.42" stroke-linecap="round" stroke-linejoin="round"/><path d="M610.0 20.0C611.7 26.7 617.5 46.7 620.0 60.0C622.5 73.3 624.2 93.3 625.0 100.0" fill="none" stroke="#22f0f4" stroke-width="14.9" stroke-opacity="0.08" stroke-linecap="round" stroke-linejoin="round"/><path d="M610.0 20.0C611.7 26.7 617.5 46.7 620.0 60.0C622.5 73.3 624.2 93.3 625.0 100.0" fill="none" stroke="#22f0f4" stroke-width="5.4" stroke-opacity="0.35" stroke-linecap="round" stroke-linejoin="round"/><path d="M590.0 100.0C596.7 100.5 617.3 102.2 630.0 103.0C642.7 103.8 660.0 104.7 666.0 105.0" fill="none" stroke="#22f0f4" stroke-width="14.9" stroke-opacity="0.09" stroke-linecap="round" stroke-linejoin="round"/><path d="M590.0 100.0C596.7 100.5 617.3 102.2 630.0 103.0C642.7 103.8 660.0 104.7 666.0 105.0" fill="none" stroke="#22f0f4" stroke-width="5.4" stroke-opacity="0.39" stroke-linecap="round" stroke-linejoin="round"/><path d="M0.0 202.0C16.7 202.7 66.7 204.3 100.0 206.0C133.3 207.7 166.7 211.3 200.0 212.0C233.3 212.7 266.7 209.7 300.0 210.0C333.3 210.3 383.3 213.3 400.0 214.0" fill="none" stroke="#22f0f4" stroke-width="17.8" stroke-opacity="0.07" stroke-linecap="round" stroke-linejoin="round"/><path d="M0.0 202.0C16.7 202.7 66.7 204.3 100.0 206.0C133.3 207.7 166.7 211.3 200.0 212.0C233.3 212.7 266.7 209.7 300.0 210.0C333.3 210.3 383.3 213.3 400.0 214.0" fill="none" stroke="#22f0f4" stroke-width="6.5" stroke-opacity="0.32" stroke-linecap="round" stroke-linejoin="round"/><path d="M380.0 120.0C390.0 121.7 423.3 128.7 440.0 130.0C456.7 131.3 463.3 124.7 480.0 128.0C496.7 131.3 530.0 146.3 540.0 150.0" fill="none" stroke="#22f0f4" stroke-width="14.9" stroke-opacity="0.06" stroke-linecap="round" stroke-linejoin="round"/><path d="M380.0 120.0C390.0 121.7 423.3 128.7 440.0 130.0C456.7 131.3 463.3 124.7 480.0 128.0C496.7 131.3 530.0 146.3 540.0 150.0" fill="none" stroke="#22f0f4" stroke-width="5.4" stroke-opacity="0.28" stroke-linecap="round" stroke-linejoin="round"/><path d="M0.0 60.0C6.7 59.2 26.7 54.7 40.0 55.0C53.3 55.3 73.3 60.8 80.0 62.0" fill="none" stroke="#22f0f4" stroke-width="11.9" stroke-opacity="0.05" stroke-linecap="round" stroke-linejoin="round"/><path d="M0.0 60.0C6.7 59.2 26.7 54.7 40.0 55.0C53.3 55.3 73.3 60.8 80.0 62.0" fill="none" stroke="#22f0f4" stroke-width="4.3" stroke-opacity="0.21" stroke-linecap="round" stroke-linejoin="round"/><path d="M-2 32h.1M90 21h.1M110 24h.1M267 16h.1M411 12h.1M482 10h.1" fill="none" stroke="#22f0f4" stroke-width="16.1" stroke-opacity="0.95" stroke-linecap="round"/><path d="M11 33h.1M149 18h.1M242 8h.1M300 16h.1M650 4h.1" fill="none" stroke="#22f0f4" stroke-width="12.8" stroke-opacity="0.76" stroke-linecap="round"/><path d="M42 32h.1M171 19h.1M251 12h.1M288 12h.1M500 10h.1M528 15h.1M541 10h.1" fill="none" stroke="#22f0f4" stroke-width="16.1" stroke-opacity="0.76" stroke-linecap="round"/><path d="M42 32h.1M171 19h.1M267 16h.1M288 12h.1M528 15h.1" fill="none" stroke="#b4ffff" stroke-width="8.8" stroke-opacity="0.76" stroke-linecap="round"/><path d="M50 22h.1M59 30h.1M182 9h.1M337 12h.1M363 13h.1M440 21h.1M461 8h.1M571 7h.1M581 11h.1M654 10h.1" fill="none" stroke="#22f0f4" stroke-width="9.5" stroke-opacity="0.95" stroke-linecap="round"/><path d="M68 27h.1M102 27h.1M141 23h.1M222 13h.1M322 18h.1M329 12h.1M352 15h.1M372 16h.1M492 13h.1M511 18h.1" fill="none" stroke="#22f0f4" stroke-width="12.8" stroke-opacity="0.95" stroke-linecap="round"/><path d="M102 27h.1M141 23h.1M222 13h.1M511 18h.1" fill="none" stroke="#b4ffff" stroke-width="7.0" stroke-opacity="0.76" stroke-linecap="round"/><path d="M130 21h.1M283 12h.1M449 8h.1M609 14h.1M627 8h.1" fill="none" stroke="#22f0f4" stroke-width="9.5" stroke-opacity="0.76" stroke-linecap="round"/><path d="M130 21h.1M283 12h.1M363 13h.1M571 7h.1" fill="none" stroke="#b4ffff" stroke-width="5.2" stroke-opacity="0.76" stroke-linecap="round"/><path d="M160 21h.1M261 12h.1M399 13h.1M429 11h.1M549 8h.1M561 7h.1" fill="none" stroke="#22f0f4" stroke-width="6.6" stroke-opacity="0.95" stroke-linecap="round"/><path d="M190 10h.1M638 3h.1" fill="none" stroke="#22f0f4" stroke-width="6.6" stroke-opacity="0.76" stroke-linecap="round"/><path d="M399 13h.1" fill="none" stroke="#b4ffff" stroke-width="3.6" stroke-opacity="0.76" stroke-linecap="round"/><path d="M177 22h.1" fill="none" stroke="#22f0f4" stroke-width="9.1" stroke-opacity="0.5" stroke-linecap="round"/><path d="M198 25h.1M212 24h.1M240 30h.1M611 20h.1" fill="none" stroke="#22f0f4" stroke-width="6.8" stroke-opacity="0.5" stroke-linecap="round"/><path d="M221 26h.1M343 27h.1M614 50h.1M402 123h.1M533 148h.1" fill="none" stroke="#22f0f4" stroke-width="4.7" stroke-opacity="0.4" stroke-linecap="round"/><path d="M253 32h.1M291 29h.1M496 137h.1M524 143h.1" fill="none" stroke="#22f0f4" stroke-width="11.5" stroke-opacity="0.4" stroke-linecap="round"/><path d="M258 28h.1M301 32h.1M318 30h.1M624 70h.1M461 129h.1M504 135h.1M511 141h.1" fill="none" stroke="#22f0f4" stroke-width="6.8" stroke-opacity="0.4" stroke-linecap="round"/><path d="M269 29h.1M615 40h.1M383 119h.1M419 127h.1M433 128h.1M470 126h.1" fill="none" stroke="#22f0f4" stroke-width="9.1" stroke-opacity="0.4" stroke-linecap="round"/><path d="M280 30h.1M310 28h.1" fill="none" stroke="#22f0f4" stroke-width="11.5" stroke-opacity="0.5" stroke-linecap="round"/><path d="M99 87h.1M192 65h.1M280 82h.1M449 86h.1M513 78h.1M598 71h.1" fill="none" stroke="#22f0f4" stroke-width="10.9" stroke-opacity="0.85" stroke-linecap="round"/><path d="M99 87h.1M192 65h.1M270 79h.1M280 82h.1M617 72h.1" fill="none" stroke="#b4ffff" stroke-width="6.0" stroke-opacity="0.68" stroke-linecap="round"/><path d="M119 80h.1M519 76h.1M611 74h.1" fill="none" stroke="#22f0f4" stroke-width="5.7" stroke-opacity="0.68" stroke-linecap="round"/><path d="M119 80h.1M218 70h.1M337 100h.1M379 104h.1M548 74h.1M611 74h.1" fill="none" stroke="#b4ffff" stroke-width="3.1" stroke-opacity="0.68" stroke-linecap="round"/><path d="M150 71h.1M160 70h.1M211 65h.1M253 71h.1M262 80h.1M353 98h.1M362 97h.1M462 90h.1M531 75h.1M541 74h.1M578 71h.1M591 71h.1M636 69h.1" fill="none" stroke="#22f0f4" stroke-width="8.1" stroke-opacity="0.85" stroke-linecap="round"/><path d="M178 63h.1M238 74h.1M287 90h.1M299 93h.1M391 105h.1M420 98h.1M503 78h.1M572 69h.1" fill="none" stroke="#22f0f4" stroke-width="13.8" stroke-opacity="0.68" stroke-linecap="round"/><path d="M198 68h.1M232 68h.1M319 97h.1M440 88h.1" fill="none" stroke="#22f0f4" stroke-width="13.8" stroke-opacity="0.85" stroke-linecap="round"/><path d="M198 68h.1M232 68h.1M319 97h.1M503 78h.1" fill="none" stroke="#b4ffff" stroke-width="7.6" stroke-opacity="0.68" stroke-linecap="round"/><path d="M211 65h.1M253 71h.1" fill="none" stroke="#b4ffff" stroke-width="4.5" stroke-opacity="0.68" stroke-linecap="round"/><path d="M218 70h.1M330 97h.1M337 100h.1M379 104h.1M427 94h.1M548 74h.1" fill="none" stroke="#22f0f4" stroke-width="5.7" stroke-opacity="0.85" stroke-linecap="round"/><path d="M270 79h.1M373 101h.1M617 72h.1" fill="none" stroke="#22f0f4" stroke-width="10.9" stroke-opacity="0.68" stroke-linecap="round"/><path d="M409 101h.1M657 74h.1" fill="none" stroke="#22f0f4" stroke-width="8.1" stroke-opacity="0.68" stroke-linecap="round"/><path d="M-1 126h.1M95 151h.1M140 175h.1M237 187h.1M269 194h.1M281 192h.1M298 185h.1M358 185h.1M379 179h.1M408 177h.1M469 183h.1" fill="none" stroke="#22f0f4" stroke-width="10.8" stroke-opacity="0.9" stroke-linecap="round"/><path d="M12 125h.1M30 135h.1M111 161h.1M121 165h.1M158 179h.1M188 179h.1M249 192h.1M392 181h.1M422 184h.1M463 188h.1M636 170h.1" fill="none" stroke="#22f0f4" stroke-width="18.4" stroke-opacity="0.9" stroke-linecap="round"/><path d="M22 135h.1M151 180h.1M168 184h.1M479 183h.1" fill="none" stroke="#22f0f4" stroke-width="10.8" stroke-opacity="0.72" stroke-linecap="round"/><path d="M22 135h.1M140 175h.1M151 180h.1M237 187h.1M269 194h.1M281 192h.1M358 185h.1M479 183h.1" fill="none" stroke="#b4ffff" stroke-width="5.9" stroke-opacity="0.72" stroke-linecap="round"/><path d="M30 135h.1M111 161h.1M249 192h.1M372 184h.1M392 181h.1M636 170h.1" fill="none" stroke="#b4ffff" stroke-width="10.1" stroke-opacity="0.72" stroke-linecap="round"/><path d="M37 134h.1M77 142h.1M84 148h.1M130 172h.1M307 189h.1M329 180h.1M337 180h.1M541 180h.1M581 170h.1M619 168h.1M625 165h.1M649 167h.1" fill="none" stroke="#22f0f4" stroke-width="7.6" stroke-opacity="0.9" stroke-linecap="round"/><path d="M37 134h.1M77 142h.1M229 191h.1M531 185h.1M550 182h.1M612 175h.1M649 167h.1" fill="none" stroke="#b4ffff" stroke-width="4.2" stroke-opacity="0.72" stroke-linecap="round"/><path d="M57 139h.1M229 191h.1M502 175h.1M531 185h.1M550 182h.1M560 179h.1M612 175h.1" fill="none" stroke="#22f0f4" stroke-width="7.6" stroke-opacity="0.72" stroke-linecap="round"/><path d="M180 181h.1M289 183h.1M319 187h.1M449 189h.1M586 168h.1" fill="none" stroke="#22f0f4" stroke-width="14.6" stroke-opacity="0.9" stroke-linecap="round"/><path d="M207 185h.1M601 170h.1" fill="none" stroke="#22f0f4" stroke-width="14.6" stroke-opacity="0.72" stroke-linecap="round"/><path d="M289 183h.1M586 168h.1" fill="none" stroke="#b4ffff" stroke-width="8.0" stroke-opacity="0.72" stroke-linecap="round"/><path d="M372 184h.1M431 179h.1M512 181h.1" fill="none" stroke="#22f0f4" stroke-width="18.4" stroke-opacity="0.72" stroke-linecap="round"/><path d="M98 110h.1" fill="none" stroke="#22f0f4" stroke-width="11.5" stroke-opacity="0.48" stroke-linecap="round"/><path d="M105 117h.1M140 153h.1M269 157h.1M338 124h.1M347 119h.1" fill="none" stroke="#22f0f4" stroke-width="9.1" stroke-opacity="0.6" stroke-linecap="round"/><path d="M108 128h.1M147 157h.1M190 162h.1M297 141h.1" fill="none" stroke="#22f0f4" stroke-width="11.5" stroke-opacity="0.6" stroke-linecap="round"/><path d="M117 134h.1M132 151h.1M200 163h.1M282 154h.1M292 149h.1M311 143h.1" fill="none" stroke="#22f0f4" stroke-width="6.8" stroke-opacity="0.6" stroke-linecap="round"/><path d="M158 157h.1M167 158h.1M179 162h.1M221 163h.1" fill="none" stroke="#22f0f4" stroke-width="4.7" stroke-opacity="0.48" stroke-linecap="round"/><path d="M237 160h.1M360 117h.1" fill="none" stroke="#22f0f4" stroke-width="9.1" stroke-opacity="0.48" stroke-linecap="round"/><path d="M320 132h.1" fill="none" stroke="#22f0f4" stroke-width="6.8" stroke-opacity="0.48" stroke-linecap="round"/><path d="M370 113h.1" fill="none" stroke="#22f0f4" stroke-width="4.7" stroke-opacity="0.6" stroke-linecap="round"/><path d="M610 31h.1M622 60h.1" fill="none" stroke="#22f0f4" stroke-width="4.7" stroke-opacity="0.5" stroke-linecap="round"/><path d="M589 102h.1M599 100h.1" fill="none" stroke="#22f0f4" stroke-width="11.5" stroke-opacity="0.44" stroke-linecap="round"/><path d="M621 101h.1" fill="none" stroke="#22f0f4" stroke-width="4.7" stroke-opacity="0.44" stroke-linecap="round"/><path d="M639 105h.1" fill="none" stroke="#22f0f4" stroke-width="6.8" stroke-opacity="0.44" stroke-linecap="round"/><path d="M645 105h.1" fill="none" stroke="#22f0f4" stroke-width="6.8" stroke-opacity="0.55" stroke-linecap="round"/><path d="M659 107h.1" fill="none" stroke="#22f0f4" stroke-width="11.5" stroke-opacity="0.55" stroke-linecap="round"/><path d="M24 202h.1M62 205h.1M73 207h.1M135 210h.1M189 211h.1M225 211h.1M339 211h.1M375 211h.1" fill="none" stroke="#22f0f4" stroke-width="5.7" stroke-opacity="0.45" stroke-linecap="round"/><path d="M35 202h.1M147 208h.1M236 214h.1M319 211h.1" fill="none" stroke="#22f0f4" stroke-width="10.9" stroke-opacity="0.36" stroke-linecap="round"/><path d="M44 203h.1M91 205h.1M245 209h.1M291 211h.1" fill="none" stroke="#22f0f4" stroke-width="13.8" stroke-opacity="0.36" stroke-linecap="round"/><path d="M55 208h.1M275 211h.1M330 209h.1M347 212h.1M366 213h.1" fill="none" stroke="#22f0f4" stroke-width="13.8" stroke-opacity="0.45" stroke-linecap="round"/><path d="M79 204h.1M157 207h.1M221 210h.1" fill="none" stroke="#22f0f4" stroke-width="5.7" stroke-opacity="0.36" stroke-linecap="round"/><path d="M102 206h.1M107 207h.1M120 208h.1M166 212h.1M210 209h.1M266 210h.1" fill="none" stroke="#22f0f4" stroke-width="8.1" stroke-opacity="0.36" stroke-linecap="round"/><path d="M128 205h.1M380 215h.1" fill="none" stroke="#22f0f4" stroke-width="10.9" stroke-opacity="0.45" stroke-linecap="round"/><path d="M201 207h.1M279 211h.1M352 214h.1" fill="none" stroke="#22f0f4" stroke-width="8.1" stroke-opacity="0.45" stroke-linecap="round"/><path d="M391 120h.1" fill="none" stroke="#22f0f4" stroke-width="6.8" stroke-opacity="0.32" stroke-linecap="round"/><path d="M437 131h.1M452 131h.1" fill="none" stroke="#22f0f4" stroke-width="4.7" stroke-opacity="0.32" stroke-linecap="round"/><path d="M490 132h.1" fill="none" stroke="#22f0f4" stroke-width="11.5" stroke-opacity="0.32" stroke-linecap="round"/><path d="M-3 59h.1" fill="none" stroke="#22f0f4" stroke-width="5.4" stroke-opacity="0.24" stroke-linecap="round"/><path d="M20 58h.1M32 57h.1M62 59h.1" fill="none" stroke="#22f0f4" stroke-width="7.3" stroke-opacity="0.3" stroke-linecap="round"/><path d="M50 54h.1" fill="none" stroke="#22f0f4" stroke-width="3.8" stroke-opacity="0.3" stroke-linecap="round"/><path d="M71 63h.1" fill="none" stroke="#22f0f4" stroke-width="9.2" stroke-opacity="0.3" stroke-linecap="round"/></g><g filter="url(#fr)"><rect x="-40" y="-40" width="746" height="302" fill="none"/><ellipse cx="92" cy="88" rx="16" ry="22" fill="#dc2026" fill-opacity="0.95" transform="rotate(25 92 88)"/><ellipse cx="335" cy="55" rx="26" ry="15" fill="#d81c22" fill-opacity="0.95"/><ellipse cx="440" cy="50" rx="20" ry="10" fill="#d81c22" fill-opacity="0.95"/><ellipse cx="480" cy="95" rx="26" ry="10" fill="#f06a70" fill-opacity="0.9"/><ellipse cx="385" cy="100" rx="18" ry="8" fill="#ffd8d8" fill-opacity="0.9"/><ellipse cx="495" cy="150" rx="28" ry="13" fill="#e01c22" fill-opacity="1"/><ellipse cx="568" cy="185" rx="14" ry="22" fill="#d82026" fill-opacity="0.95"/><ellipse cx="135" cy="172" rx="16" ry="10" fill="#ffc8c8" fill-opacity="0.85"/><ellipse cx="235" cy="45" rx="12" ry="8" fill="#a02028" fill-opacity="0.6"/><ellipse cx="470" cy="12" rx="12" ry="7" fill="#f0c8c8" fill-opacity="0.8"/></g><g filter="url(#fa)"><path d="M85.0 116.0L103.5 152.5L92.2 152.5L92.2 164.0L77.8 164.0L77.8 152.5L66.5 152.5Z" fill="#fff"/><path d="M345.0 81.0L363.5 117.5L352.2 117.5L352.2 129.0L337.8 129.0L337.8 117.5L326.5 117.5Z" fill="#fff"/><path d="M438.0 68.0L456.5 104.5L445.2 104.5L445.2 116.0L430.8 116.0L430.8 104.5L419.5 104.5Z" fill="#fff"/><path d="M568.0 155.0L586.5 118.5L575.2 118.5L575.2 107.0L560.8 107.0L560.8 118.5L549.5 118.5Z" fill="#fff"/><path d="M498.0 166.0L516.5 202.5L505.2 202.5L505.2 214.0L490.8 214.0L490.8 202.5L479.5 202.5Z" fill="#fff"/></g></g></g><g clip-path="url(#cpA3)"><rect x="45" y="191.2" width="210.2" height="69.8" fill="#020d10"/><g transform="translate(45 191.2) scale(0.31562)"><rect x="0" y="0" width="666" height="222" fill="#22f0f4" fill-opacity="0.05" filter="url(#fh)"/><g filter="url(#fb)"><rect x="-40" y="-40" width="746" height="302" fill="none"/><path d="M90.0 25.0C100.0 23.3 131.7 17.8 150.0 15.0C168.3 12.2 181.7 7.2 200.0 8.0C218.3 8.8 240.0 16.7 260.0 20.0C280.0 23.3 300.0 27.2 320.0 28.0C340.0 28.8 363.3 28.0 380.0 25.0C396.7 22.0 403.3 11.7 420.0 10.0C436.7 8.3 460.0 12.5 480.0 15.0C500.0 17.5 520.0 22.5 540.0 25.0C560.0 27.5 579.0 30.0 600.0 30.0C621.0 30.0 655.0 25.8 666.0 25.0" fill="none" stroke="#22f0f4" stroke-width="20.8" stroke-opacity="0.14" stroke-linecap="round" stroke-linejoin="round"/><path d="M90.0 25.0C100.0 23.3 131.7 17.8 150.0 15.0C168.3 12.2 181.7 7.2 200.0 8.0C218.3 8.8 240.0 16.7 260.0 20.0C280.0 23.3 300.0 27.2 320.0 28.0C340.0 28.8 363.3 28.0 380.0 25.0C396.7 22.0 403.3 11.7 420.0 10.0C436.7 8.3 460.0 12.5 480.0 15.0C500.0 17.5 520.0 22.5 540.0 25.0C560.0 27.5 579.0 30.0 600.0 30.0C621.0 30.0 655.0 25.8 666.0 25.0" fill="none" stroke="#22f0f4" stroke-width="7.6" stroke-opacity="0.59" stroke-linecap="round" stroke-linejoin="round"/><path d="M0.0 65.0C10.0 65.5 40.0 68.8 60.0 68.0C80.0 67.2 101.7 63.0 120.0 60.0C138.3 57.0 153.3 52.5 170.0 50.0C186.7 47.5 205.0 46.7 220.0 45.0C235.0 43.3 241.7 41.7 260.0 40.0C278.3 38.3 318.3 35.8 330.0 35.0" fill="none" stroke="#22f0f4" stroke-width="17.8" stroke-opacity="0.11" stroke-linecap="round" stroke-linejoin="round"/><path d="M0.0 65.0C10.0 65.5 40.0 68.8 60.0 68.0C80.0 67.2 101.7 63.0 120.0 60.0C138.3 57.0 153.3 52.5 170.0 50.0C186.7 47.5 205.0 46.7 220.0 45.0C235.0 43.3 241.7 41.7 260.0 40.0C278.3 38.3 318.3 35.8 330.0 35.0" fill="none" stroke="#22f0f4" stroke-width="6.5" stroke-opacity="0.49" stroke-linecap="round" stroke-linejoin="round"/><path d="M0.0 125.0C10.0 125.5 38.3 127.2 60.0 128.0C81.7 128.8 106.7 133.3 130.0 130.0C153.3 126.7 178.3 112.2 200.0 108.0C221.7 103.8 238.3 106.3 260.0 105.0C281.7 103.7 306.7 100.0 330.0 100.0C353.3 100.0 378.3 103.3 400.0 105.0C421.7 106.7 440.0 108.3 460.0 110.0C480.0 111.7 500.0 112.5 520.0 115.0C540.0 117.5 555.7 121.7 580.0 125.0C604.3 128.3 651.7 133.3 666.0 135.0" fill="none" stroke="#22f0f4" stroke-width="17.8" stroke-opacity="0.14" stroke-linecap="round" stroke-linejoin="round"/><path d="M0.0 125.0C10.0 125.5 38.3 127.2 60.0 128.0C81.7 128.8 106.7 133.3 130.0 130.0C153.3 126.7 178.3 112.2 200.0 108.0C221.7 103.8 238.3 106.3 260.0 105.0C281.7 103.7 306.7 100.0 330.0 100.0C353.3 100.0 378.3 103.3 400.0 105.0C421.7 106.7 440.0 108.3 460.0 110.0C480.0 111.7 500.0 112.5 520.0 115.0C540.0 117.5 555.7 121.7 580.0 125.0C604.3 128.3 651.7 133.3 666.0 135.0" fill="none" stroke="#22f0f4" stroke-width="6.5" stroke-opacity="0.59" stroke-linecap="round" stroke-linejoin="round"/><path d="M0.0 150.0C16.7 150.3 66.7 151.2 100.0 152.0C133.3 152.8 173.3 155.3 200.0 155.0C226.7 154.7 240.0 150.0 260.0 150.0C280.0 150.0 296.7 153.3 320.0 155.0C343.3 156.7 386.7 159.2 400.0 160.0" fill="none" stroke="#22f0f4" stroke-width="14.9" stroke-opacity="0.09" stroke-linecap="round" stroke-linejoin="round"/><path d="M0.0 150.0C16.7 150.3 66.7 151.2 100.0 152.0C133.3 152.8 173.3 155.3 200.0 155.0C226.7 154.7 240.0 150.0 260.0 150.0C280.0 150.0 296.7 153.3 320.0 155.0C343.3 156.7 386.7 159.2 400.0 160.0" fill="none" stroke="#22f0f4" stroke-width="5.4" stroke-opacity="0.39" stroke-linecap="round" stroke-linejoin="round"/><path d="M200.0 150.0C210.0 152.5 243.3 159.2 260.0 165.0C276.7 170.8 283.3 180.0 300.0 185.0C316.7 190.0 336.7 192.5 360.0 195.0C383.3 197.5 413.3 198.3 440.0 200.0C466.7 201.7 493.3 203.3 520.0 205.0C546.7 206.7 575.7 208.3 600.0 210.0C624.3 211.7 655.0 214.2 666.0 215.0" fill="none" stroke="#22f0f4" stroke-width="17.8" stroke-opacity="0.13" stroke-linecap="round" stroke-linejoin="round"/><path d="M200.0 150.0C210.0 152.5 243.3 159.2 260.0 165.0C276.7 170.8 283.3 180.0 300.0 185.0C316.7 190.0 336.7 192.5 360.0 195.0C383.3 197.5 413.3 198.3 440.0 200.0C466.7 201.7 493.3 203.3 520.0 205.0C546.7 206.7 575.7 208.3 600.0 210.0C624.3 211.7 655.0 214.2 666.0 215.0" fill="none" stroke="#22f0f4" stroke-width="6.5" stroke-opacity="0.56" stroke-linecap="round" stroke-linejoin="round"/><path d="M0.0 205.0C10.0 204.2 38.3 200.0 60.0 200.0C81.7 200.0 106.7 203.3 130.0 205.0C153.3 206.7 175.0 208.8 200.0 210.0C225.0 211.2 266.7 211.7 280.0 212.0" fill="none" stroke="#22f0f4" stroke-width="20.8" stroke-opacity="0.12" stroke-linecap="round" stroke-linejoin="round"/><path d="M0.0 205.0C10.0 204.2 38.3 200.0 60.0 200.0C81.7 200.0 106.7 203.3 130.0 205.0C153.3 206.7 175.0 208.8 200.0 210.0C225.0 211.2 266.7 211.7 280.0 212.0" fill="none" stroke="#22f0f4" stroke-width="7.6" stroke-opacity="0.52" stroke-linecap="round" stroke-linejoin="round"/><path d="M600.0 20.0C605.0 23.3 619.0 34.2 630.0 40.0C641.0 45.8 660.0 52.5 666.0 55.0" fill="none" stroke="#22f0f4" stroke-width="26.7" stroke-opacity="0.10" stroke-linecap="round" stroke-linejoin="round"/><path d="M600.0 20.0C605.0 23.3 619.0 34.2 630.0 40.0C641.0 45.8 660.0 52.5 666.0 55.0" fill="none" stroke="#22f0f4" stroke-width="9.7" stroke-opacity="0.42" stroke-linecap="round" stroke-linejoin="round"/><path d="M420.0 80.0 L480.0 95.0" fill="none" stroke="#22f0f4" stroke-width="11.9" stroke-opacity="0.06" stroke-linecap="round" stroke-linejoin="round"/><path d="M420.0 80.0 L480.0 95.0" fill="none" stroke="#22f0f4" stroke-width="4.3" stroke-opacity="0.28" stroke-linecap="round" stroke-linejoin="round"/><path d="M86 22h.1M122 20h.1M180 14h.1M258 20h.1M591 26h.1M650 24h.1" fill="none" stroke="#22f0f4" stroke-width="6.6" stroke-opacity="0.85" stroke-linecap="round"/><path d="M86 22h.1M180 14h.1M591 26h.1M650 24h.1" fill="none" stroke="#b4ffff" stroke-width="3.6" stroke-opacity="0.68" stroke-linecap="round"/><path d="M102 21h.1M139 19h.1M152 19h.1M171 7h.1M193 10h.1M240 15h.1M252 20h.1M277 22h.1M337 29h.1M382 25h.1M398 16h.1M442 12h.1M491 16h.1M511 20h.1M518 21h.1M569 28h.1M658 24h.1" fill="none" stroke="#22f0f4" stroke-width="9.5" stroke-opacity="0.85" stroke-linecap="round"/><path d="M108 23h.1M310 27h.1M363 25h.1M387 21h.1M422 12h.1M481 13h.1" fill="none" stroke="#22f0f4" stroke-width="16.1" stroke-opacity="0.85" stroke-linecap="round"/><path d="M127 16h.1M158 14h.1M223 9h.1M289 27h.1" fill="none" stroke="#22f0f4" stroke-width="12.8" stroke-opacity="0.85" stroke-linecap="round"/><path d="M127 16h.1M158 14h.1M223 9h.1M289 27h.1M461 11h.1M543 27h.1" fill="none" stroke="#b4ffff" stroke-width="7.0" stroke-opacity="0.68" stroke-linecap="round"/><path d="M139 19h.1M171 7h.1M240 15h.1M252 20h.1M277 22h.1M430 7h.1M511 20h.1M518 21h.1M569 28h.1M579 26h.1" fill="none" stroke="#b4ffff" stroke-width="5.2" stroke-opacity="0.68" stroke-linecap="round"/><path d="M212 9h.1M461 11h.1M543 27h.1M559 26h.1" fill="none" stroke="#22f0f4" stroke-width="12.8" stroke-opacity="0.68" stroke-linecap="round"/><path d="M227 16h.1M467 14h.1M611 30h.1" fill="none" stroke="#22f0f4" stroke-width="6.6" stroke-opacity="0.68" stroke-linecap="round"/><path d="M271 20h.1M353 30h.1M430 7h.1M552 25h.1M579 26h.1" fill="none" stroke="#22f0f4" stroke-width="9.5" stroke-opacity="0.68" stroke-linecap="round"/><path d="M300 26h.1M328 28h.1" fill="none" stroke="#22f0f4" stroke-width="16.1" stroke-opacity="0.68" stroke-linecap="round"/><path d="M300 26h.1M328 28h.1M481 13h.1" fill="none" stroke="#b4ffff" stroke-width="8.8" stroke-opacity="0.68" stroke-linecap="round"/><path d="M7 65h.1" fill="none" stroke="#22f0f4" stroke-width="8.1" stroke-opacity="0.56" stroke-linecap="round"/><path d="M19 67h.1M82 66h.1M127 56h.1M211 44h.1" fill="none" stroke="#22f0f4" stroke-width="13.8" stroke-opacity="0.7" stroke-linecap="round"/><path d="M29 67h.1M250 38h.1" fill="none" stroke="#22f0f4" stroke-width="5.7" stroke-opacity="0.7" stroke-linecap="round"/><path d="M40 68h.1M69 72h.1M93 63h.1M238 39h.1M267 36h.1M311 36h.1" fill="none" stroke="#22f0f4" stroke-width="10.9" stroke-opacity="0.7" stroke-linecap="round"/><path d="M51 65h.1M59 69h.1M100 62h.1M123 60h.1M141 57h.1M158 55h.1M171 48h.1M178 47h.1M231 43h.1M262 41h.1M282 39h.1M288 39h.1M321 35h.1" fill="none" stroke="#22f0f4" stroke-width="8.1" stroke-opacity="0.7" stroke-linecap="round"/><path d="M108 61h.1" fill="none" stroke="#22f0f4" stroke-width="10.9" stroke-opacity="0.56" stroke-linecap="round"/><path d="M218 43h.1" fill="none" stroke="#22f0f4" stroke-width="13.8" stroke-opacity="0.56" stroke-linecap="round"/><path d="M299 36h.1" fill="none" stroke="#22f0f4" stroke-width="5.7" stroke-opacity="0.56" stroke-linecap="round"/><path d="M2 122h.1M50 127h.1M60 126h.1M401 102h.1M527 117h.1M580 125h.1M589 123h.1M609 126h.1M625 132h.1" fill="none" stroke="#22f0f4" stroke-width="8.1" stroke-opacity="0.68" stroke-linecap="round"/><path d="M22 130h.1M569 123h.1M617 127h.1M648 133h.1" fill="none" stroke="#22f0f4" stroke-width="10.9" stroke-opacity="0.85" stroke-linecap="round"/><path d="M50 127h.1M163 115h.1M175 114h.1M301 101h.1M333 98h.1M381 103h.1M391 105h.1M401 102h.1M499 112h.1M527 117h.1M589 123h.1" fill="none" stroke="#b4ffff" stroke-width="4.5" stroke-opacity="0.68" stroke-linecap="round"/><path d="M69 130h.1M139 132h.1M230 106h.1M258 101h.1M359 100h.1M411 104h.1M472 111h.1M539 117h.1" fill="none" stroke="#22f0f4" stroke-width="13.8" stroke-opacity="0.85" stroke-linecap="round"/><path d="M80 128h.1M199 107h.1M442 110h.1M518 117h.1" fill="none" stroke="#22f0f4" stroke-width="13.8" stroke-opacity="0.68" stroke-linecap="round"/><path d="M80 128h.1M139 132h.1M199 107h.1M518 117h.1" fill="none" stroke="#b4ffff" stroke-width="7.6" stroke-opacity="0.68" stroke-linecap="round"/><path d="M89 127h.1M127 127h.1M147 128h.1M163 115h.1M175 114h.1M179 112h.1M213 109h.1M268 102h.1M287 105h.1M301 101h.1M333 98h.1M341 98h.1M381 103h.1M391 105h.1M423 101h.1M478 113h.1M499 112h.1M510 116h.1M547 128h.1" fill="none" stroke="#22f0f4" stroke-width="8.1" stroke-opacity="0.85" stroke-linecap="round"/><path d="M98 128h.1M349 104h.1M492 111h.1" fill="none" stroke="#22f0f4" stroke-width="5.7" stroke-opacity="0.68" stroke-linecap="round"/><path d="M158 121h.1M190 108h.1M252 102h.1M281 105h.1M308 99h.1M597 128h.1" fill="none" stroke="#22f0f4" stroke-width="5.7" stroke-opacity="0.85" stroke-linecap="round"/><path d="M190 108h.1" fill="none" stroke="#b4ffff" stroke-width="3.1" stroke-opacity="0.68" stroke-linecap="round"/><path d="M429 108h.1M655 130h.1" fill="none" stroke="#22f0f4" stroke-width="10.9" stroke-opacity="0.68" stroke-linecap="round"/><path d="M569 123h.1M617 127h.1" fill="none" stroke="#b4ffff" stroke-width="6.0" stroke-opacity="0.68" stroke-linecap="round"/><path d="M18 149h.1M120 150h.1M175 150h.1M260 149h.1M323 152h.1M332 157h.1" fill="none" stroke="#22f0f4" stroke-width="11.5" stroke-opacity="0.55" stroke-linecap="round"/><path d="M27 149h.1M66 150h.1M100 152h.1M109 153h.1M134 154h.1M189 154h.1M212 156h.1M220 154h.1M273 153h.1M279 150h.1M367 160h.1" fill="none" stroke="#22f0f4" stroke-width="6.8" stroke-opacity="0.55" stroke-linecap="round"/><path d="M34 150h.1M198 158h.1M339 157h.1M363 159h.1" fill="none" stroke="#22f0f4" stroke-width="6.8" stroke-opacity="0.44" stroke-linecap="round"/><path d="M53 150h.1" fill="none" stroke="#22f0f4" stroke-width="11.5" stroke-opacity="0.44" stroke-linecap="round"/><path d="M70 152h.1M125 151h.1M350 155h.1" fill="none" stroke="#22f0f4" stroke-width="4.7" stroke-opacity="0.55" stroke-linecap="round"/><path d="M147 154h.1" fill="none" stroke="#22f0f4" stroke-width="9.1" stroke-opacity="0.44" stroke-linecap="round"/><path d="M181 153h.1M229 153h.1M253 151h.1" fill="none" stroke="#22f0f4" stroke-width="4.7" stroke-opacity="0.44" stroke-linecap="round"/><path d="M390 158h.1" fill="none" stroke="#22f0f4" stroke-width="9.1" stroke-opacity="0.55" stroke-linecap="round"/><path d="M201 151h.1M450 198h.1M462 201h.1M618 214h.1M640 212h.1" fill="none" stroke="#22f0f4" stroke-width="13.8" stroke-opacity="0.64" stroke-linecap="round"/><path d="M228 155h.1M263 164h.1M322 188h.1M328 190h.1M420 204h.1M438 197h.1M493 201h.1M573 208h.1M610 207h.1" fill="none" stroke="#22f0f4" stroke-width="8.1" stroke-opacity="0.8" stroke-linecap="round"/><path d="M228 155h.1M263 164h.1M322 188h.1M420 204h.1M438 197h.1M493 201h.1" fill="none" stroke="#b4ffff" stroke-width="4.5" stroke-opacity="0.64" stroke-linecap="round"/><path d="M242 160h.1" fill="none" stroke="#22f0f4" stroke-width="13.8" stroke-opacity="0.8" stroke-linecap="round"/><path d="M242 160h.1M450 198h.1M462 201h.1M618 214h.1M640 212h.1" fill="none" stroke="#b4ffff" stroke-width="7.6" stroke-opacity="0.64" stroke-linecap="round"/><path d="M293 180h.1M300 186h.1M342 192h.1M348 195h.1M397 200h.1M477 201h.1M499 201h.1M563 210h.1M583 207h.1M587 207h.1" fill="none" stroke="#22f0f4" stroke-width="10.9" stroke-opacity="0.8" stroke-linecap="round"/><path d="M293 180h.1M408 193h.1M499 201h.1M587 207h.1" fill="none" stroke="#b4ffff" stroke-width="6.0" stroke-opacity="0.64" stroke-linecap="round"/><path d="M308 183h.1M537 205h.1M548 205h.1M646 213h.1" fill="none" stroke="#22f0f4" stroke-width="5.7" stroke-opacity="0.8" stroke-linecap="round"/><path d="M358 199h.1M378 196h.1M408 193h.1" fill="none" stroke="#22f0f4" stroke-width="10.9" stroke-opacity="0.64" stroke-linecap="round"/><path d="M372 194h.1M473 197h.1" fill="none" stroke="#22f0f4" stroke-width="5.7" stroke-opacity="0.64" stroke-linecap="round"/><path d="M372 194h.1M548 205h.1M646 213h.1" fill="none" stroke="#b4ffff" stroke-width="3.1" stroke-opacity="0.64" stroke-linecap="round"/><path d="M18 205h.1" fill="none" stroke="#22f0f4" stroke-width="16.1" stroke-opacity="0.75" stroke-linecap="round"/><path d="M18 205h.1M262 212h.1" fill="none" stroke="#b4ffff" stroke-width="8.8" stroke-opacity="0.6" stroke-linecap="round"/><path d="M27 201h.1M39 196h.1M61 202h.1M90 207h.1M131 206h.1M208 210h.1M229 210h.1M240 209h.1M269 206h.1" fill="none" stroke="#22f0f4" stroke-width="9.5" stroke-opacity="0.75" stroke-linecap="round"/><path d="M39 196h.1M53 201h.1M90 207h.1M99 203h.1M131 206h.1M182 216h.1M219 209h.1M229 210h.1M240 209h.1M269 206h.1" fill="none" stroke="#b4ffff" stroke-width="5.2" stroke-opacity="0.6" stroke-linecap="round"/><path d="M53 201h.1M99 203h.1M149 205h.1M182 216h.1M219 209h.1" fill="none" stroke="#22f0f4" stroke-width="9.5" stroke-opacity="0.6" stroke-linecap="round"/><path d="M68 201h.1M112 200h.1M138 208h.1" fill="none" stroke="#22f0f4" stroke-width="6.6" stroke-opacity="0.75" stroke-linecap="round"/><path d="M68 201h.1" fill="none" stroke="#b4ffff" stroke-width="3.6" stroke-opacity="0.6" stroke-linecap="round"/><path d="M171 208h.1M188 210h.1M201 211h.1M249 212h.1" fill="none" stroke="#22f0f4" stroke-width="12.8" stroke-opacity="0.75" stroke-linecap="round"/><path d="M188 210h.1" fill="none" stroke="#b4ffff" stroke-width="7.0" stroke-opacity="0.6" stroke-linecap="round"/><path d="M262 212h.1" fill="none" stroke="#22f0f4" stroke-width="16.1" stroke-opacity="0.6" stroke-linecap="round"/><path d="M596 22h.1M612 22h.1" fill="none" stroke="#22f0f4" stroke-width="12.2" stroke-opacity="0.6" stroke-linecap="round"/><path d="M613 30h.1M655 53h.1" fill="none" stroke="#22f0f4" stroke-width="20.7" stroke-opacity="0.6" stroke-linecap="round"/><path d="M628 30h.1M632 37h.1" fill="none" stroke="#22f0f4" stroke-width="16.4" stroke-opacity="0.6" stroke-linecap="round"/><path d="M642 41h.1M650 45h.1" fill="none" stroke="#22f0f4" stroke-width="8.5" stroke-opacity="0.6" stroke-linecap="round"/><path d="M419 83h.1" fill="none" stroke="#22f0f4" stroke-width="5.4" stroke-opacity="0.4" stroke-linecap="round"/><path d="M432 82h.1M459 93h.1" fill="none" stroke="#22f0f4" stroke-width="9.2" stroke-opacity="0.4" stroke-linecap="round"/><path d="M451 90h.1" fill="none" stroke="#22f0f4" stroke-width="5.4" stroke-opacity="0.32" stroke-linecap="round"/><path d="M469 93h.1" fill="none" stroke="#22f0f4" stroke-width="3.8" stroke-opacity="0.4" stroke-linecap="round"/></g><g filter="url(#fr)"><rect x="-40" y="-40" width="746" height="302" fill="none"/><ellipse cx="50" cy="18" rx="26" ry="12" fill="#c83038" fill-opacity="0.85" transform="rotate(15 50 18)"/><ellipse cx="90" cy="112" rx="22" ry="9" fill="#dc2026" fill-opacity="0.95"/><ellipse cx="155" cy="162" rx="30" ry="12" fill="#dc2026" fill-opacity="0.95" transform="rotate(-12 155 162)"/><ellipse cx="285" cy="125" rx="45" ry="14" fill="#e01c22" fill-opacity="1"/><ellipse cx="525" cy="52" rx="28" ry="10" fill="#e01c22" fill-opacity="1" transform="rotate(8 525 52)"/><ellipse cx="612" cy="185" rx="25" ry="9" fill="#d01c22" fill-opacity="0.9"/><ellipse cx="5" cy="160" rx="10" ry="12" fill="#d01c22" fill-opacity="0.9"/><ellipse cx="600" cy="12" rx="15" ry="8" fill="#c03038" fill-opacity="0.7"/><ellipse cx="410" cy="130" rx="20" ry="12" fill="#801820" fill-opacity="0.6"/><ellipse cx="300" cy="80" rx="22" ry="18" fill="#601018" fill-opacity="0.6"/></g><g filter="url(#fa)"><path d="M95.0 85.0L113.5 48.5L102.2 48.5L102.2 37.0L87.8 37.0L87.8 48.5L76.5 48.5Z" fill="#fff"/><path d="M170.0 132.0L188.5 95.5L177.2 95.5L177.2 84.0L162.8 84.0L162.8 95.5L151.5 95.5Z" fill="#fff"/><path d="M288.0 85.0L306.5 48.5L295.2 48.5L295.2 37.0L280.8 37.0L280.8 48.5L269.5 48.5Z" fill="#fff"/><path d="M518.0 73.0L536.5 109.5L525.2 109.5L525.2 121.0L510.8 121.0L510.8 109.5L499.5 109.5Z" fill="#fff"/><path d="M615.0 172.0L633.5 135.5L622.2 135.5L622.2 124.0L607.8 124.0L607.8 135.5L596.5 135.5Z" fill="#fff"/></g></g></g><g clip-path="url(#cpB1)"><rect x="261.5" y="35" width="210" height="69.8" fill="#022202"/><g transform="translate(261.5 35) scale(0.31532)"><rect x="0" y="0" width="666" height="222" fill="#18a818" fill-opacity="0.2" filter="url(#fh)"/><g filter="url(#fb)"><rect x="-40" y="-40" width="746" height="302" fill="none"/><path d="M0.0 30.0C10.0 30.8 40.0 35.0 60.0 35.0C80.0 35.0 100.0 32.2 120.0 30.0C140.0 27.8 160.0 24.5 180.0 22.0C200.0 19.5 220.0 16.2 240.0 15.0C260.0 13.8 280.0 14.5 300.0 15.0C320.0 15.5 340.0 15.5 360.0 18.0C380.0 20.5 400.0 26.3 420.0 30.0C440.0 33.7 460.0 39.2 480.0 40.0C500.0 40.8 520.0 34.2 540.0 35.0C560.0 35.8 579.0 44.2 600.0 45.0C621.0 45.8 655.0 40.8 666.0 40.0" fill="none" stroke="#18a818" stroke-width="32.9" stroke-opacity="0.13" stroke-linecap="round" stroke-linejoin="round"/><path d="M0.0 30.0C10.0 30.8 40.0 35.0 60.0 35.0C80.0 35.0 100.0 32.2 120.0 30.0C140.0 27.8 160.0 24.5 180.0 22.0C200.0 19.5 220.0 16.2 240.0 15.0C260.0 13.8 280.0 14.5 300.0 15.0C320.0 15.5 340.0 15.5 360.0 18.0C380.0 20.5 400.0 26.3 420.0 30.0C440.0 33.7 460.0 39.2 480.0 40.0C500.0 40.8 520.0 34.2 540.0 35.0C560.0 35.8 579.0 44.2 600.0 45.0C621.0 45.8 655.0 40.8 666.0 40.0" fill="none" stroke="#18a818" stroke-width="12.0" stroke-opacity="0.35" stroke-linecap="round" stroke-linejoin="round"/><path d="M0.0 70.0C10.0 70.8 40.0 72.5 60.0 75.0C80.0 77.5 110.0 83.3 120.0 85.0" fill="none" stroke="#18a818" stroke-width="25.3" stroke-opacity="0.12" stroke-linecap="round" stroke-linejoin="round"/><path d="M0.0 70.0C10.0 70.8 40.0 72.5 60.0 75.0C80.0 77.5 110.0 83.3 120.0 85.0" fill="none" stroke="#18a818" stroke-width="9.2" stroke-opacity="0.32" stroke-linecap="round" stroke-linejoin="round"/><path d="M130.0 105.0C138.3 103.8 161.7 99.7 180.0 98.0C198.3 96.3 220.0 96.0 240.0 95.0C260.0 94.0 280.0 91.5 300.0 92.0C320.0 92.5 340.0 95.8 360.0 98.0C380.0 100.2 400.0 103.3 420.0 105.0C440.0 106.7 460.0 106.8 480.0 108.0C500.0 109.2 520.0 110.3 540.0 112.0C560.0 113.7 590.0 117.0 600.0 118.0" fill="none" stroke="#18a818" stroke-width="17.7" stroke-opacity="0.21" stroke-linecap="round" stroke-linejoin="round"/><path d="M130.0 105.0C138.3 103.8 161.7 99.7 180.0 98.0C198.3 96.3 220.0 96.0 240.0 95.0C260.0 94.0 280.0 91.5 300.0 92.0C320.0 92.5 340.0 95.8 360.0 98.0C380.0 100.2 400.0 103.3 420.0 105.0C440.0 106.7 460.0 106.8 480.0 108.0C500.0 109.2 520.0 110.3 540.0 112.0C560.0 113.7 590.0 117.0 600.0 118.0" fill="none" stroke="#18a818" stroke-width="6.4" stroke-opacity="0.56" stroke-linecap="round" stroke-linejoin="round"/><path d="M180.0 125.0C190.0 126.7 223.3 132.8 240.0 135.0C256.7 137.2 263.3 136.3 280.0 138.0C296.7 139.7 320.0 142.2 340.0 145.0C360.0 147.8 380.0 151.7 400.0 155.0C420.0 158.3 440.0 162.5 460.0 165.0C480.0 167.5 510.0 169.2 520.0 170.0" fill="none" stroke="#18a818" stroke-width="17.7" stroke-opacity="0.18" stroke-linecap="round" stroke-linejoin="round"/><path d="M180.0 125.0C190.0 126.7 223.3 132.8 240.0 135.0C256.7 137.2 263.3 136.3 280.0 138.0C296.7 139.7 320.0 142.2 340.0 145.0C360.0 147.8 380.0 151.7 400.0 155.0C420.0 158.3 440.0 162.5 460.0 165.0C480.0 167.5 510.0 169.2 520.0 170.0" fill="none" stroke="#18a818" stroke-width="6.4" stroke-opacity="0.49" stroke-linecap="round" stroke-linejoin="round"/><path d="M0.0 190.0C10.0 191.7 40.0 199.2 60.0 200.0C80.0 200.8 96.7 195.0 120.0 195.0C143.3 195.0 173.3 198.3 200.0 200.0C226.7 201.7 253.3 203.7 280.0 205.0C306.7 206.3 333.3 208.8 360.0 208.0C386.7 207.2 413.3 202.2 440.0 200.0C466.7 197.8 493.3 197.5 520.0 195.0C546.7 192.5 575.7 187.5 600.0 185.0C624.3 182.5 655.0 180.8 666.0 180.0" fill="none" stroke="#18a818" stroke-width="32.9" stroke-opacity="0.13" stroke-linecap="round" stroke-linejoin="round"/><path d="M0.0 190.0C10.0 191.7 40.0 199.2 60.0 200.0C80.0 200.8 96.7 195.0 120.0 195.0C143.3 195.0 173.3 198.3 200.0 200.0C226.7 201.7 253.3 203.7 280.0 205.0C306.7 206.3 333.3 208.8 360.0 208.0C386.7 207.2 413.3 202.2 440.0 200.0C466.7 197.8 493.3 197.5 520.0 195.0C546.7 192.5 575.7 187.5 600.0 185.0C624.3 182.5 655.0 180.8 666.0 180.0" fill="none" stroke="#18a818" stroke-width="12.0" stroke-opacity="0.35" stroke-linecap="round" stroke-linejoin="round"/><path d="M590.0 130.0C596.7 133.3 617.3 145.0 630.0 150.0C642.7 155.0 660.0 158.3 666.0 160.0" fill="none" stroke="#18a818" stroke-width="35.4" stroke-opacity="0.12" stroke-linecap="round" stroke-linejoin="round"/><path d="M590.0 130.0C596.7 133.3 617.3 145.0 630.0 150.0C642.7 155.0 660.0 158.3 666.0 160.0" fill="none" stroke="#18a818" stroke-width="12.9" stroke-opacity="0.32" stroke-linecap="round" stroke-linejoin="round"/><path d="M0.0 110.0C6.7 111.7 26.7 116.7 40.0 120.0C53.3 123.3 73.3 128.3 80.0 130.0" fill="none" stroke="#18a818" stroke-width="20.2" stroke-opacity="0.10" stroke-linecap="round" stroke-linejoin="round"/><path d="M0.0 110.0C6.7 111.7 26.7 116.7 40.0 120.0C53.3 123.3 73.3 128.3 80.0 130.0" fill="none" stroke="#18a818" stroke-width="7.4" stroke-opacity="0.28" stroke-linecap="round" stroke-linejoin="round"/><path d="M-2 31h.1M88 26h.1M121 34h.1M143 30h.1M327 20h.1M360 15h.1M398 33h.1M438 36h.1M451 31h.1M479 40h.1M510 32h.1M539 50h.1M41 202h.1M78 204h.1M129 197h.1M219 201h.1M429 205h.1M452 209h.1" fill="none" stroke="#18a818" stroke-width="25.4" stroke-opacity="0.5" stroke-linecap="round"/><path d="M11 33h.1M32 34h.1M71 39h.1M79 29h.1M151 26h.1M180 20h.1M202 20h.1M469 39h.1M499 44h.1M630 47h.1M636 41h.1M1 197h.1M19 197h.1M63 206h.1M100 199h.1M149 200h.1M179 199h.1M203 201h.1M248 210h.1M271 210h.1M302 204h.1M323 206h.1M389 207h.1M498 191h.1M539 190h.1M626 186h.1M650 189h.1" fill="none" stroke="#18a818" stroke-width="14.9" stroke-opacity="0.5" stroke-linecap="round"/><path d="M40 36h.1M280 15h.1M319 16h.1M382 24h.1M433 23h.1M87 198h.1" fill="none" stroke="#18a818" stroke-width="14.9" stroke-opacity="0.4" stroke-linecap="round"/><path d="M52 26h.1M252 21h.1M337 17h.1M169 194h.1M368 211h.1M408 201h.1M513 195h.1M572 190h.1M578 181h.1M591 192h.1" fill="none" stroke="#18a818" stroke-width="20.2" stroke-opacity="0.4" stroke-linecap="round"/><path d="M60 33h.1M292 14h.1M462 43h.1M487 37h.1M531 38h.1M560 30h.1M578 42h.1M30 194h.1M52 198h.1M332 202h.1M401 206h.1M439 206h.1M469 193h.1" fill="none" stroke="#18a818" stroke-width="25.4" stroke-opacity="0.4" stroke-linecap="round"/><path d="M102 33h.1M190 16h.1M219 25h.1M258 16h.1M352 18h.1M389 30h.1M409 25h.1M519 44h.1M290 199h.1M341 209h.1M459 196h.1M479 199h.1M491 200h.1M559 194h.1" fill="none" stroke="#18a818" stroke-width="20.2" stroke-opacity="0.5" stroke-linecap="round"/><path d="M129 33h.1M159 19h.1M169 27h.1M599 40h.1M620 38h.1M7 191h.1M110 203h.1M313 201h.1M351 212h.1M520 194h.1M551 189h.1M658 173h.1" fill="none" stroke="#18a818" stroke-width="10.5" stroke-opacity="0.5" stroke-linecap="round"/><path d="M207 15h.1M309 18h.1M419 37h.1M610 41h.1M647 38h.1M191 202h.1M530 191h.1" fill="none" stroke="#18a818" stroke-width="10.5" stroke-opacity="0.4" stroke-linecap="round"/><path d="M2 72h.1M70 74h.1" fill="none" stroke="#18a818" stroke-width="15.5" stroke-opacity="0.36" stroke-linecap="round"/><path d="M49 75h.1M81 78h.1M90 79h.1M97 85h.1M403 144h.1M421 147h.1M185 124h.1M74 143h.1M89 142h.1M152 2h.1M165 2h.1M308 55h.1M291 100h.1M306 102h.1M279 91h.1M288 91h.1M43 69h.1M58 71h.1M12 7h.1M234 16h.1M165 133h.1M176 131h.1M99 92h.1M446 221h.1M465 224h.1M194 76h.1M206 76h.1M36 107h.1M552 55h.1M564 57h.1M472 44h.1M388 0h.1" fill="none" stroke="#18a818" stroke-width="8.0" stroke-opacity="0.45" stroke-linecap="round"/><path d="M61 70h.1" fill="none" stroke="#18a818" stroke-width="8.0" stroke-opacity="0.36" stroke-linecap="round"/><path d="M129 106h.1M149 102h.1M200 95h.1M300 90h.1M311 92h.1M361 96h.1M402 99h.1M412 107h.1M503 107h.1M512 107h.1" fill="none" stroke="#18a818" stroke-width="8.0" stroke-opacity="0.8" stroke-linecap="round"/><path d="M142 101h.1M188 92h.1M243 94h.1M270 92h.1" fill="none" stroke="#18a818" stroke-width="5.6" stroke-opacity="0.64" stroke-linecap="round"/><path d="M163 103h.1M210 95h.1M330 91h.1M388 103h.1M438 109h.1M450 109h.1M540 115h.1M570 117h.1" fill="none" stroke="#18a818" stroke-width="13.7" stroke-opacity="0.64" stroke-linecap="round"/><path d="M188 92h.1M270 92h.1M368 100h.1M487 109h.1M529 114h.1" fill="none" stroke="#44cc44" stroke-width="3.1" stroke-opacity="0.64" stroke-linecap="round"/><path d="M219 98h.1M348 99h.1M381 98h.1M469 108h.1M591 113h.1" fill="none" stroke="#18a818" stroke-width="13.7" stroke-opacity="0.8" stroke-linecap="round"/><path d="M228 94h.1M558 117h.1" fill="none" stroke="#18a818" stroke-width="8.0" stroke-opacity="0.64" stroke-linecap="round"/><path d="M228 94h.1M361 96h.1M402 99h.1" fill="none" stroke="#44cc44" stroke-width="4.4" stroke-opacity="0.64" stroke-linecap="round"/><path d="M253 94h.1M342 96h.1M429 104h.1" fill="none" stroke="#18a818" stroke-width="10.9" stroke-opacity="0.8" stroke-linecap="round"/><path d="M253 94h.1M342 96h.1M420 104h.1M429 104h.1" fill="none" stroke="#44cc44" stroke-width="6.0" stroke-opacity="0.64" stroke-linecap="round"/><path d="M348 99h.1M381 98h.1M469 108h.1" fill="none" stroke="#44cc44" stroke-width="7.5" stroke-opacity="0.64" stroke-linecap="round"/><path d="M368 100h.1M480 106h.1M487 109h.1M529 114h.1M577 116h.1" fill="none" stroke="#18a818" stroke-width="5.6" stroke-opacity="0.8" stroke-linecap="round"/><path d="M420 104h.1M523 111h.1" fill="none" stroke="#18a818" stroke-width="10.9" stroke-opacity="0.64" stroke-linecap="round"/><path d="M180 121h.1M239 133h.1M350 148h.1" fill="none" stroke="#18a818" stroke-width="10.9" stroke-opacity="0.7" stroke-linecap="round"/><path d="M192 129h.1M197 129h.1M248 133h.1M290 140h.1M298 134h.1M319 143h.1M398 154h.1M412 159h.1M428 161h.1M513 171h.1" fill="none" stroke="#18a818" stroke-width="8.0" stroke-opacity="0.7" stroke-linecap="round"/><path d="M208 131h.1M283 136h.1M498 170h.1" fill="none" stroke="#18a818" stroke-width="13.7" stroke-opacity="0.56" stroke-linecap="round"/><path d="M220 131h.1M260 135h.1" fill="none" stroke="#18a818" stroke-width="8.0" stroke-opacity="0.56" stroke-linecap="round"/><path d="M232 139h.1M328 141h.1M342 147h.1M488 167h.1" fill="none" stroke="#18a818" stroke-width="5.6" stroke-opacity="0.56" stroke-linecap="round"/><path d="M267 137h.1M420 165h.1M448 161h.1" fill="none" stroke="#18a818" stroke-width="5.6" stroke-opacity="0.7" stroke-linecap="round"/><path d="M369 149h.1" fill="none" stroke="#18a818" stroke-width="10.9" stroke-opacity="0.56" stroke-linecap="round"/><path d="M380 151h.1M441 161h.1" fill="none" stroke="#18a818" stroke-width="13.7" stroke-opacity="0.7" stroke-linecap="round"/><path d="M594 128h.1M640 145h.1M659 159h.1" fill="none" stroke="#18a818" stroke-width="27.4" stroke-opacity="0.36" stroke-linecap="round"/><path d="M610 142h.1" fill="none" stroke="#18a818" stroke-width="11.3" stroke-opacity="0.45" stroke-linecap="round"/><path d="M617 148h.1" fill="none" stroke="#18a818" stroke-width="16.1" stroke-opacity="0.45" stroke-linecap="round"/><path d="M632 151h.1" fill="none" stroke="#18a818" stroke-width="16.1" stroke-opacity="0.36" stroke-linecap="round"/><path d="M646 153h.1" fill="none" stroke="#18a818" stroke-width="11.3" stroke-opacity="0.36" stroke-linecap="round"/><path d="M3 108h.1M50 123h.1" fill="none" stroke="#18a818" stroke-width="12.4" stroke-opacity="0.4" stroke-linecap="round"/><path d="M10 117h.1M57 129h.1" fill="none" stroke="#18a818" stroke-width="15.6" stroke-opacity="0.4" stroke-linecap="round"/><path d="M21 115h.1M42 122h.1" fill="none" stroke="#18a818" stroke-width="9.2" stroke-opacity="0.4" stroke-linecap="round"/><path d="M68 128h.1" fill="none" stroke="#18a818" stroke-width="6.4" stroke-opacity="0.32" stroke-linecap="round"/><path d="M215 4h.1M150 131h.1M169 132h.1M519 74h.1M535 74h.1M628 134h.1M283 140h.1M303 142h.1M615 61h.1M549 6h.1M548 159h.1M563 158h.1M381 33h.1M391 35h.1M660 92h.1M674 93h.1M143 131h.1M156 133h.1M221 80h.1M230 79h.1M449 6h.1M266 50h.1M282 49h.1" fill="none" stroke="#18a818" stroke-width="11.0" stroke-opacity="0.2" stroke-linecap="round"/><path d="M414 195h.1M424 196h.1M38 177h.1M665 100h.1M389 161h.1M406 158h.1M536 74h.1M172 137h.1M40 115h.1M56 117h.1M72 146h.1M89 146h.1M516 142h.1M214 191h.1M97 69h.1M111 69h.1M351 40h.1M359 43h.1M597 200h.1M613 201h.1M365 28h.1M378 25h.1" fill="none" stroke="#18a818" stroke-width="8.0" stroke-opacity="0.3" stroke-linecap="round"/><path d="M392 130h.1M406 131h.1M250 201h.1M259 200h.1M365 159h.1M379 161h.1M394 63h.1M412 60h.1M205 130h.1M358 2h.1M377 2h.1M484 145h.1M502 147h.1M324 183h.1M243 1h.1M256 1h.1" fill="none" stroke="#18a818" stroke-width="8.0" stroke-opacity="0.2" stroke-linecap="round"/><path d="M386 9h.1M168 128h.1M176 126h.1M396 64h.1M410 62h.1M630 120h.1M3 122h.1M16 120h.1M76 219h.1M94 219h.1M370 25h.1M382 24h.1M23 119h.1M42 118h.1M81 169h.1M99 169h.1M539 88h.1M552 89h.1M375 173h.1M40 61h.1M60 61h.1M215 128h.1M460 170h.1M579 117h.1M519 176h.1M153 54h.1M207 196h.1M487 92h.1M506 93h.1M580 217h.1M594 219h.1M124 200h.1M133 198h.1" fill="none" stroke="#18a818" stroke-width="11.0" stroke-opacity="0.45" stroke-linecap="round"/><path d="M415 195h.1M247 50h.1M349 146h.1M661 55h.1M537 53h.1M554 52h.1M649 143h.1M5 63h.1M23 66h.1M44 165h.1M467 165h.1M404 4h.1M414 3h.1M479 35h.1M493 35h.1M160 22h.1M177 21h.1M377 215h.1" fill="none" stroke="#18a818" stroke-width="6.0" stroke-opacity="0.3" stroke-linecap="round"/><path d="M42 0h.1M245 20h.1M258 21h.1M46 25h.1M54 26h.1M405 115h.1M414 114h.1M450 194h.1M469 194h.1M635 190h.1M643 188h.1M176 178h.1M405 28h.1M422 27h.1M177 12h.1M645 52h.1M660 50h.1M44 177h.1M62 179h.1M660 101h.1M220 46h.1M235 49h.1M202 63h.1M218 62h.1M370 174h.1M153 111h.1M172 114h.1M628 187h.1M647 184h.1M584 59h.1M595 60h.1" fill="none" stroke="#18a818" stroke-width="6.0" stroke-opacity="0.2" stroke-linecap="round"/><path d="M195 114h.1M295 201h.1M304 198h.1M401 134h.1M418 132h.1M47 106h.1M62 104h.1M540 122h.1M552 120h.1M174 33h.1M522 111h.1M539 110h.1" fill="none" stroke="#18a818" stroke-width="6.0" stroke-opacity="0.45" stroke-linecap="round"/><path d="M644 57h.1M205 110h.1M207 202h.1M72 90h.1M487 62h.1M586 182h.1" fill="none" stroke="#18a818" stroke-width="11.0" stroke-opacity="0.3" stroke-linecap="round"/></g><g filter="url(#fa)"><path d="M115.0 146.0L133.5 109.5L122.2 109.5L122.2 98.0L107.8 98.0L107.8 109.5L96.5 109.5Z" fill="#fff"/><path d="M576.0 126.0L594.5 162.5L583.2 162.5L583.2 174.0L568.8 174.0L568.8 162.5L557.5 162.5Z" fill="#fff"/></g></g></g><g clip-path="url(#cpB2)"><rect x="261.5" y="113.2" width="210" height="69.8" fill="#011401"/><g transform="translate(261.5 113.2) scale(0.31532)"><rect x="0" y="0" width="666" height="222" fill="#1cb41c" fill-opacity="0.09" filter="url(#fh)"/><g filter="url(#fb)"><rect x="-40" y="-40" width="746" height="302" fill="none"/><path d="M180.0 12.0 L240.0 12.0" fill="none" stroke="#1cb41c" stroke-width="17.6" stroke-opacity="0.13" stroke-linecap="round" stroke-linejoin="round"/><path d="M180.0 12.0 L240.0 12.0" fill="none" stroke="#1cb41c" stroke-width="6.4" stroke-opacity="0.49" stroke-linecap="round" stroke-linejoin="round"/><path d="M490.0 75.0 L550.0 75.0" fill="none" stroke="#1cb41c" stroke-width="11.0" stroke-opacity="0.09" stroke-linecap="round" stroke-linejoin="round"/><path d="M490.0 75.0 L550.0 75.0" fill="none" stroke="#1cb41c" stroke-width="4.0" stroke-opacity="0.35" stroke-linecap="round" stroke-linejoin="round"/><path d="M480.0 100.0 L520.0 100.0" fill="none" stroke="#1cb41c" stroke-width="11.0" stroke-opacity="0.09" stroke-linecap="round" stroke-linejoin="round"/><path d="M480.0 100.0 L520.0 100.0" fill="none" stroke="#1cb41c" stroke-width="4.0" stroke-opacity="0.35" stroke-linecap="round" stroke-linejoin="round"/><path d="M180.0 190.0 L240.0 190.0" fill="none" stroke="#1cb41c" stroke-width="15.4" stroke-opacity="0.07" stroke-linecap="round" stroke-linejoin="round"/><path d="M180.0 190.0 L240.0 190.0" fill="none" stroke="#1cb41c" stroke-width="5.6" stroke-opacity="0.28" stroke-linecap="round" stroke-linejoin="round"/><path d="M130.0 60.0 L170.0 62.0" fill="none" stroke="#1cb41c" stroke-width="13.2" stroke-opacity="0.05" stroke-linecap="round" stroke-linejoin="round"/><path d="M130.0 60.0 L170.0 62.0" fill="none" stroke="#1cb41c" stroke-width="4.8" stroke-opacity="0.21" stroke-linecap="round" stroke-linejoin="round"/><path d="M0.0 40.0C16.7 40.8 66.7 43.3 100.0 45.0C133.3 46.7 183.3 49.2 200.0 50.0" fill="none" stroke="#1cb41c" stroke-width="22.0" stroke-opacity="0.04" stroke-linecap="round" stroke-linejoin="round"/><path d="M0.0 40.0C16.7 40.8 66.7 43.3 100.0 45.0C133.3 46.7 183.3 49.2 200.0 50.0" fill="none" stroke="#1cb41c" stroke-width="8.0" stroke-opacity="0.14" stroke-linecap="round" stroke-linejoin="round"/><path d="M300.0 175.0C316.7 175.8 375.0 178.3 400.0 180.0C425.0 181.7 441.7 184.2 450.0 185.0" fill="none" stroke="#1cb41c" stroke-width="22.0" stroke-opacity="0.05" stroke-linecap="round" stroke-linejoin="round"/><path d="M300.0 175.0C316.7 175.8 375.0 178.3 400.0 180.0C425.0 181.7 441.7 184.2 450.0 185.0" fill="none" stroke="#1cb41c" stroke-width="8.0" stroke-opacity="0.21" stroke-linecap="round" stroke-linejoin="round"/><path d="M177 9h.1M207 7h.1" fill="none" stroke="#1cb41c" stroke-width="5.6" stroke-opacity="0.7" stroke-linecap="round"/><path d="M203 10h.1M229 12h.1" fill="none" stroke="#1cb41c" stroke-width="8.0" stroke-opacity="0.7" stroke-linecap="round"/><path d="M220 14h.1" fill="none" stroke="#1cb41c" stroke-width="10.8" stroke-opacity="0.56" stroke-linecap="round"/><path d="M488 74h.1" fill="none" stroke="#1cb41c" stroke-width="8.5" stroke-opacity="0.4" stroke-linecap="round"/><path d="M500 74h.1M517 74h.1M531 76h.1M540 75h.1M487 98h.1" fill="none" stroke="#1cb41c" stroke-width="5.0" stroke-opacity="0.5" stroke-linecap="round"/><path d="M479 100h.1" fill="none" stroke="#1cb41c" stroke-width="3.5" stroke-opacity="0.4" stroke-linecap="round"/><path d="M510 101h.1" fill="none" stroke="#1cb41c" stroke-width="8.5" stroke-opacity="0.5" stroke-linecap="round"/><path d="M178 191h.1M230 192h.1" fill="none" stroke="#1cb41c" stroke-width="7.0" stroke-opacity="0.4" stroke-linecap="round"/><path d="M193 187h.1M199 190h.1" fill="none" stroke="#1cb41c" stroke-width="9.5" stroke-opacity="0.4" stroke-linecap="round"/><path d="M219 192h.1" fill="none" stroke="#1cb41c" stroke-width="7.0" stroke-opacity="0.32" stroke-linecap="round"/><path d="M129 61h.1M142 64h.1" fill="none" stroke="#1cb41c" stroke-width="4.2" stroke-opacity="0.24" stroke-linecap="round"/><path d="M2 39h.1M62 48h.1M188 50h.1" fill="none" stroke="#1cb41c" stroke-width="10.0" stroke-opacity="0.2" stroke-linecap="round"/><path d="M9 39h.1M16 39h.1M115 40h.1" fill="none" stroke="#1cb41c" stroke-width="13.5" stroke-opacity="0.2" stroke-linecap="round"/><path d="M27 41h.1M138 51h.1M165 51h.1" fill="none" stroke="#1cb41c" stroke-width="7.0" stroke-opacity="0.2" stroke-linecap="round"/><path d="M36 43h.1" fill="none" stroke="#1cb41c" stroke-width="17.0" stroke-opacity="0.16" stroke-linecap="round"/><path d="M54 44h.1M110 54h.1M145 47h.1M174 54h.1" fill="none" stroke="#1cb41c" stroke-width="17.0" stroke-opacity="0.2" stroke-linecap="round"/><path d="M84 45h.1M91 46h.1M103 45h.1" fill="none" stroke="#1cb41c" stroke-width="10.0" stroke-opacity="0.16" stroke-linecap="round"/><path d="M183 46h.1" fill="none" stroke="#1cb41c" stroke-width="13.5" stroke-opacity="0.16" stroke-linecap="round"/><path d="M298 173h.1" fill="none" stroke="#1cb41c" stroke-width="17.0" stroke-opacity="0.24" stroke-linecap="round"/><path d="M307 181h.1M337 180h.1M365 178h.1M380 180h.1M398 183h.1" fill="none" stroke="#1cb41c" stroke-width="10.0" stroke-opacity="0.3" stroke-linecap="round"/><path d="M344 183h.1M357 179h.1" fill="none" stroke="#1cb41c" stroke-width="17.0" stroke-opacity="0.3" stroke-linecap="round"/><path d="M374 183h.1" fill="none" stroke="#1cb41c" stroke-width="7.0" stroke-opacity="0.24" stroke-linecap="round"/><path d="M388 178h.1" fill="none" stroke="#1cb41c" stroke-width="13.5" stroke-opacity="0.3" stroke-linecap="round"/><path d="M431 185h.1" fill="none" stroke="#1cb41c" stroke-width="7.0" stroke-opacity="0.3" stroke-linecap="round"/><path d="M629 22h.1M474 56h.1M492 57h.1M422 152h.1M433 153h.1M569 104h.1M584 103h.1M50 72h.1M390 181h.1M173 68h.1M364 67h.1M42 147h.1M53 150h.1M59 161h.1M73 160h.1M656 88h.1M668 85h.1M632 72h.1M649 74h.1M205 1h.1M221 -0h.1M70 146h.1M80 149h.1M48 69h.1M63 70h.1M434 112h.1M452 110h.1M272 152h.1M630 51h.1M647 49h.1M133 19h.1M153 18h.1M215 178h.1M242 27h.1M252 28h.1M86 75h.1" fill="none" stroke="#1cb41c" stroke-width="8.0" stroke-opacity="0.2" stroke-linecap="round"/><path d="M212 59h.1M224 59h.1M342 188h.1M31 157h.1M140 207h.1M121 135h.1M521 150h.1M535 153h.1M592 202h.1M182 120h.1M458 28h.1M469 26h.1M492 122h.1M467 123h.1M520 166h.1M529 165h.1M223 130h.1M234 129h.1M231 90h.1M476 42h.1" fill="none" stroke="#1cb41c" stroke-width="6.0" stroke-opacity="0.45" stroke-linecap="round"/><path d="M177 82h.1M190 83h.1M590 7h.1M604 9h.1M198 97h.1M114 69h.1M57 131h.1M68 130h.1M579 157h.1M24 62h.1M36 61h.1M190 192h.1M7 117h.1M640 126h.1M449 42h.1M116 133h.1M460 74h.1M121 69h.1M664 58h.1M51 132h.1M584 104h.1M255 74h.1M312 170h.1M327 168h.1M70 202h.1M83 203h.1M75 215h.1M91 216h.1" fill="none" stroke="#1cb41c" stroke-width="11.0" stroke-opacity="0.45" stroke-linecap="round"/><path d="M200 139h.1M217 140h.1M244 51h.1M274 105h.1M286 108h.1M207 28h.1M226 31h.1M39 200h.1M52 199h.1M222 58h.1M166 25h.1M458 163h.1M612 106h.1M364 130h.1M49 115h.1M60 115h.1M554 100h.1M564 99h.1M178 158h.1M197 159h.1M105 140h.1M125 141h.1M48 194h.1M58 194h.1" fill="none" stroke="#1cb41c" stroke-width="11.0" stroke-opacity="0.3" stroke-linecap="round"/><path d="M49 207h.1M95 55h.1M109 57h.1M300 103h.1M449 53h.1M551 72h.1M563 70h.1M38 25h.1M501 116h.1M387 47h.1M633 207h.1M643 210h.1M294 209h.1M309 206h.1M558 84h.1M383 83h.1M169 88h.1M184 87h.1M291 194h.1M644 68h.1" fill="none" stroke="#1cb41c" stroke-width="6.0" stroke-opacity="0.2" stroke-linecap="round"/><path d="M331 181h.1M339 183h.1M206 29h.1M201 101h.1M211 104h.1M598 197h.1M52 96h.1M63 96h.1M374 161h.1M605 154h.1M644 191h.1M11 112h.1M30 113h.1M400 94h.1M168 98h.1M177 99h.1M237 180h.1M257 178h.1M471 98h.1M90 118h.1M107 119h.1M70 8h.1M81 6h.1M257 51h.1M275 54h.1M144 80h.1M429 165h.1" fill="none" stroke="#1cb41c" stroke-width="8.0" stroke-opacity="0.3" stroke-linecap="round"/><path d="M536 103h.1M549 100h.1M318 40h.1M328 43h.1M418 106h.1M435 108h.1M465 106h.1M479 106h.1M408 158h.1M26 201h.1M42 201h.1M622 49h.1M638 48h.1M355 35h.1M30 101h.1M508 77h.1M517 77h.1M515 59h.1M44 25h.1M458 109h.1M599 109h.1M610 106h.1M415 53h.1M616 22h.1M634 23h.1M648 205h.1" fill="none" stroke="#1cb41c" stroke-width="8.0" stroke-opacity="0.45" stroke-linecap="round"/><path d="M601 148h.1M619 149h.1M344 99h.1M562 202h.1M573 203h.1M493 63h.1M77 94h.1M93 174h.1M117 56h.1M135 58h.1M586 31h.1M350 184h.1M361 182h.1M64 100h.1M76 103h.1M492 109h.1" fill="none" stroke="#1cb41c" stroke-width="11.0" stroke-opacity="0.2" stroke-linecap="round"/><path d="M519 87h.1M537 85h.1M273 109h.1M149 98h.1M575 156h.1M594 153h.1M638 69h.1M647 70h.1M2 146h.1M14 148h.1M339 133h.1M578 2h.1M593 -1h.1M643 32h.1M508 45h.1M518 43h.1M554 31h.1M179 102h.1M189 100h.1M511 121h.1M525 119h.1M490 7h.1M128 213h.1M147 215h.1M570 72h.1M585 74h.1" fill="none" stroke="#1cb41c" stroke-width="6.0" stroke-opacity="0.3" stroke-linecap="round"/></g><g filter="url(#fr)"><rect x="-40" y="-40" width="746" height="302" fill="none"/><ellipse cx="335" cy="58" rx="21" ry="12" fill="#20b020" fill-opacity="0.59"/><ellipse cx="440" cy="52" rx="21" ry="8" fill="#20b020" fill-opacity="0.64"/><ellipse cx="490" cy="148" rx="24" ry="10" fill="#38e038" fill-opacity="0.81"/><ellipse cx="575" cy="182" rx="20" ry="14" fill="#20b020" fill-opacity="0.68"/><ellipse cx="380" cy="195" rx="17" ry="12" fill="#20b020" fill-opacity="0.51"/><ellipse cx="580" cy="10" rx="17" ry="5" fill="#20b020" fill-opacity="0.26"/></g><g filter="url(#fa)"><path d="M88.0 116.0L106.5 152.5L95.2 152.5L95.2 164.0L80.8 164.0L80.8 152.5L69.5 152.5Z" fill="#fff"/><path d="M346.0 89.0L364.5 125.5L353.2 125.5L353.2 137.0L338.8 137.0L338.8 125.5L327.5 125.5Z" fill="#fff"/><path d="M440.0 75.0L458.5 111.5L447.2 111.5L447.2 123.0L432.8 123.0L432.8 111.5L421.5 111.5Z" fill="#fff"/><path d="M576.0 152.0L594.5 115.5L583.2 115.5L583.2 104.0L568.8 104.0L568.8 115.5L557.5 115.5Z" fill="#fff"/><path d="M500.0 168.0L518.5 204.5L507.2 204.5L507.2 216.0L492.8 216.0L492.8 204.5L481.5 204.5Z" fill="#fff"/></g></g></g><g clip-path="url(#cpB3)"><rect x="261.5" y="191.2" width="210" height="69.8" fill="#011101"/><g transform="translate(261.5 191.2) scale(0.31532)"><rect x="0" y="0" width="666" height="222" fill="#1cb41c" fill-opacity="0.07" filter="url(#fh)"/><g filter="url(#fb)"><rect x="-40" y="-40" width="746" height="302" fill="none"/><path d="M415.0 118.0 L485.0 120.0" fill="none" stroke="#1cb41c" stroke-width="8.8" stroke-opacity="0.09" stroke-linecap="round" stroke-linejoin="round"/><path d="M415.0 118.0 L485.0 120.0" fill="none" stroke="#1cb41c" stroke-width="3.2" stroke-opacity="0.35" stroke-linecap="round" stroke-linejoin="round"/><path d="M350.0 45.0 L410.0 35.0" fill="none" stroke="#1cb41c" stroke-width="6.6" stroke-opacity="0.07" stroke-linecap="round" stroke-linejoin="round"/><path d="M350.0 45.0 L410.0 35.0" fill="none" stroke="#1cb41c" stroke-width="2.4" stroke-opacity="0.28" stroke-linecap="round" stroke-linejoin="round"/><path d="M0.0 130.0 L60.0 125.0" fill="none" stroke="#1cb41c" stroke-width="8.8" stroke-opacity="0.07" stroke-linecap="round" stroke-linejoin="round"/><path d="M0.0 130.0 L60.0 125.0" fill="none" stroke="#1cb41c" stroke-width="3.2" stroke-opacity="0.28" stroke-linecap="round" stroke-linejoin="round"/><path d="M200.0 150.0 L260.0 152.0" fill="none" stroke="#1cb41c" stroke-width="8.8" stroke-opacity="0.06" stroke-linecap="round" stroke-linejoin="round"/><path d="M200.0 150.0 L260.0 152.0" fill="none" stroke="#1cb41c" stroke-width="3.2" stroke-opacity="0.24" stroke-linecap="round" stroke-linejoin="round"/><path d="M400.0 130.0 L420.0 170.0" fill="none" stroke="#1cb41c" stroke-width="6.6" stroke-opacity="0.06" stroke-linecap="round" stroke-linejoin="round"/><path d="M400.0 130.0 L420.0 170.0" fill="none" stroke="#1cb41c" stroke-width="2.4" stroke-opacity="0.24" stroke-linecap="round" stroke-linejoin="round"/><path d="M280.0 200.0C300.0 200.8 363.3 203.3 400.0 205.0C436.7 206.7 483.3 209.2 500.0 210.0" fill="none" stroke="#1cb41c" stroke-width="8.8" stroke-opacity="0.05" stroke-linecap="round" stroke-linejoin="round"/><path d="M280.0 200.0C300.0 200.8 363.3 203.3 400.0 205.0C436.7 206.7 483.3 209.2 500.0 210.0" fill="none" stroke="#1cb41c" stroke-width="3.2" stroke-opacity="0.21" stroke-linecap="round" stroke-linejoin="round"/><path d="M30.0 15.0 L80.0 10.0" fill="none" stroke="#1cb41c" stroke-width="8.8" stroke-opacity="0.07" stroke-linecap="round" stroke-linejoin="round"/><path d="M30.0 15.0 L80.0 10.0" fill="none" stroke="#1cb41c" stroke-width="3.2" stroke-opacity="0.28" stroke-linecap="round" stroke-linejoin="round"/><path d="M0.0 95.0C16.7 94.2 66.7 90.5 100.0 90.0C133.3 89.5 183.3 91.7 200.0 92.0" fill="none" stroke="#1cb41c" stroke-width="17.6" stroke-opacity="0.03" stroke-linecap="round" stroke-linejoin="round"/><path d="M0.0 95.0C16.7 94.2 66.7 90.5 100.0 90.0C133.3 89.5 183.3 91.7 200.0 92.0" fill="none" stroke="#1cb41c" stroke-width="6.4" stroke-opacity="0.10" stroke-linecap="round" stroke-linejoin="round"/><path d="M413 119h.1" fill="none" stroke="#1cb41c" stroke-width="5.4" stroke-opacity="0.5" stroke-linecap="round"/><path d="M435 120h.1M445 122h.1M466 118h.1" fill="none" stroke="#1cb41c" stroke-width="4.0" stroke-opacity="0.5" stroke-linecap="round"/><path d="M455 120h.1M49 126h.1" fill="none" stroke="#1cb41c" stroke-width="2.8" stroke-opacity="0.4" stroke-linecap="round"/><path d="M475 119h.1M3 130h.1M57 12h.1" fill="none" stroke="#1cb41c" stroke-width="5.4" stroke-opacity="0.4" stroke-linecap="round"/><path d="M368 42h.1M379 40h.1" fill="none" stroke="#1cb41c" stroke-width="3.0" stroke-opacity="0.4" stroke-linecap="round"/><path d="M393 39h.1" fill="none" stroke="#1cb41c" stroke-width="2.1" stroke-opacity="0.4" stroke-linecap="round"/><path d="M402 36h.1" fill="none" stroke="#1cb41c" stroke-width="5.1" stroke-opacity="0.4" stroke-linecap="round"/><path d="M30 130h.1M40 14h.1" fill="none" stroke="#1cb41c" stroke-width="6.8" stroke-opacity="0.4" stroke-linecap="round"/><path d="M38 126h.1M29 16h.1M48 12h.1" fill="none" stroke="#1cb41c" stroke-width="4.0" stroke-opacity="0.32" stroke-linecap="round"/><path d="M197 150h.1M211 153h.1M233 150h.1M253 153h.1" fill="none" stroke="#1cb41c" stroke-width="4.0" stroke-opacity="0.35" stroke-linecap="round"/><path d="M221 150h.1" fill="none" stroke="#1cb41c" stroke-width="6.8" stroke-opacity="0.35" stroke-linecap="round"/><path d="M242 151h.1" fill="none" stroke="#1cb41c" stroke-width="4.0" stroke-opacity="0.28" stroke-linecap="round"/><path d="M410 150h.1" fill="none" stroke="#1cb41c" stroke-width="4.1" stroke-opacity="0.35" stroke-linecap="round"/><path d="M415 160h.1" fill="none" stroke="#1cb41c" stroke-width="2.1" stroke-opacity="0.35" stroke-linecap="round"/><path d="M280 198h.1M296 198h.1M425 207h.1" fill="none" stroke="#1cb41c" stroke-width="6.8" stroke-opacity="0.24" stroke-linecap="round"/><path d="M307 203h.1M380 202h.1M464 208h.1" fill="none" stroke="#1cb41c" stroke-width="5.4" stroke-opacity="0.3" stroke-linecap="round"/><path d="M317 202h.1" fill="none" stroke="#1cb41c" stroke-width="2.8" stroke-opacity="0.24" stroke-linecap="round"/><path d="M324 202h.1M370 203h.1M434 205h.1" fill="none" stroke="#1cb41c" stroke-width="4.0" stroke-opacity="0.3" stroke-linecap="round"/><path d="M342 204h.1M479 210h.1" fill="none" stroke="#1cb41c" stroke-width="4.0" stroke-opacity="0.24" stroke-linecap="round"/><path d="M355 203h.1M390 206h.1M412 202h.1M452 208h.1M491 209h.1" fill="none" stroke="#1cb41c" stroke-width="6.8" stroke-opacity="0.3" stroke-linecap="round"/><path d="M415 205h.1M447 208h.1" fill="none" stroke="#1cb41c" stroke-width="2.8" stroke-opacity="0.3" stroke-linecap="round"/><path d="M3 94h.1M27 92h.1M92 88h.1M147 91h.1M172 91h.1" fill="none" stroke="#1cb41c" stroke-width="8.0" stroke-opacity="0.15" stroke-linecap="round"/><path d="M9 94h.1" fill="none" stroke="#1cb41c" stroke-width="13.6" stroke-opacity="0.12" stroke-linecap="round"/><path d="M18 98h.1M109 91h.1" fill="none" stroke="#1cb41c" stroke-width="8.0" stroke-opacity="0.12" stroke-linecap="round"/><path d="M43 88h.1M52 87h.1M83 89h.1" fill="none" stroke="#1cb41c" stroke-width="10.8" stroke-opacity="0.12" stroke-linecap="round"/><path d="M61 92h.1M126 90h.1M162 88h.1" fill="none" stroke="#1cb41c" stroke-width="5.6" stroke-opacity="0.15" stroke-linecap="round"/><path d="M102 91h.1M137 90h.1M152 96h.1" fill="none" stroke="#1cb41c" stroke-width="13.6" stroke-opacity="0.15" stroke-linecap="round"/><path d="M117 93h.1M182 93h.1" fill="none" stroke="#1cb41c" stroke-width="10.8" stroke-opacity="0.15" stroke-linecap="round"/><path d="M176 31h.1M400 21h.1M17 114h.1M35 113h.1M651 218h.1M282 92h.1M146 89h.1M74 212h.1M519 11h.1M530 70h.1M13 127h.1M22 126h.1M428 168h.1M621 105h.1M630 104h.1" fill="none" stroke="#1cb41c" stroke-width="11.0" stroke-opacity="0.3" stroke-linecap="round"/><path d="M574 47h.1M37 123h.1M49 125h.1M651 144h.1M542 82h.1M551 202h.1M648 150h.1M554 221h.1M180 181h.1M267 197h.1M286 199h.1M626 36h.1M638 33h.1M296 40h.1M612 5h.1M628 5h.1M655 147h.1M198 137h.1M212 134h.1M345 176h.1M3 112h.1M81 210h.1M365 132h.1M57 29h.1" fill="none" stroke="#1cb41c" stroke-width="6.0" stroke-opacity="0.45" stroke-linecap="round"/><path d="M412 216h.1M424 213h.1M161 160h.1M58 140h.1M192 107h.1M201 110h.1M77 76h.1M649 17h.1M663 19h.1M279 152h.1M292 150h.1M349 15h.1M361 14h.1M590 116h.1M257 74h.1M275 75h.1M18 191h.1M660 187h.1M671 190h.1M184 53h.1M201 53h.1M536 158h.1M550 161h.1M569 200h.1" fill="none" stroke="#1cb41c" stroke-width="11.0" stroke-opacity="0.45" stroke-linecap="round"/><path d="M479 174h.1M488 172h.1M483 106h.1M474 162h.1M494 164h.1M505 12h.1M513 12h.1M142 89h.1M397 41h.1M77 21h.1M77 96h.1M89 94h.1M203 138h.1M156 169h.1M172 170h.1M344 194h.1M198 189h.1M458 136h.1M468 138h.1M425 168h.1" fill="none" stroke="#1cb41c" stroke-width="8.0" stroke-opacity="0.45" stroke-linecap="round"/><path d="M567 185h.1M590 29h.1M631 121h.1M651 122h.1M240 41h.1M251 42h.1M145 209h.1M154 207h.1M207 179h.1M215 178h.1M299 216h.1M553 141h.1M118 47h.1M131 49h.1M663 142h.1M310 9h.1M330 7h.1M93 88h.1M105 86h.1M32 91h.1M47 88h.1M435 98h.1M369 148h.1M381 149h.1" fill="none" stroke="#1cb41c" stroke-width="6.0" stroke-opacity="0.3" stroke-linecap="round"/><path d="M575 195h.1M594 197h.1M453 48h.1M468 48h.1M25 112h.1M140 84h.1M157 82h.1M495 34h.1M398 117h.1M409 119h.1M639 69h.1M425 145h.1M435 144h.1M616 99h.1M624 97h.1M625 135h.1M4 93h.1M269 48h.1M381 71h.1M400 70h.1M85 181h.1M643 42h.1M475 14h.1M505 116h.1" fill="none" stroke="#1cb41c" stroke-width="8.0" stroke-opacity="0.3" stroke-linecap="round"/><path d="M434 143h.1M449 141h.1M150 104h.1M433 6h.1M592 69h.1M309 162h.1M251 70h.1M267 70h.1M388 149h.1M405 150h.1M498 97h.1M510 98h.1M648 194h.1M659 195h.1M82 181h.1M101 182h.1M501 56h.1M517 58h.1M376 12h.1M377 22h.1" fill="none" stroke="#1cb41c" stroke-width="11.0" stroke-opacity="0.2" stroke-linecap="round"/><path d="M427 155h.1M467 49h.1M480 50h.1M333 2h.1M422 200h.1M493 219h.1M387 196h.1M276 150h.1M292 151h.1M496 59h.1M483 114h.1M495 112h.1M637 47h.1M652 47h.1M659 188h.1M677 185h.1M415 220h.1" fill="none" stroke="#1cb41c" stroke-width="6.0" stroke-opacity="0.2" stroke-linecap="round"/><path d="M424 45h.1M434 43h.1M649 102h.1M669 104h.1M499 140h.1M514 138h.1M321 108h.1M101 190h.1M110 192h.1M306 210h.1M500 175h.1M368 154h.1M495 67h.1M509 69h.1M328 128h.1M515 23h.1M274 158h.1M288 161h.1M47 103h.1M56 101h.1" fill="none" stroke="#1cb41c" stroke-width="8.0" stroke-opacity="0.2" stroke-linecap="round"/></g><g filter="url(#fr)"><rect x="-40" y="-40" width="746" height="302" fill="none"/><ellipse cx="95" cy="118" rx="24" ry="8" fill="#20b420" fill-opacity="0.68"/><ellipse cx="155" cy="160" rx="22" ry="10" fill="#48f048" fill-opacity="0.85"/><ellipse cx="290" cy="120" rx="34" ry="8" fill="#20b420" fill-opacity="0.68"/><ellipse cx="520" cy="50" rx="26" ry="6" fill="#20b420" fill-opacity="0.64" transform="rotate(8 520 50)"/><ellipse cx="370" cy="112" rx="6" ry="6" fill="#20b420" fill-opacity="0.59"/><ellipse cx="30" cy="158" rx="5" ry="5" fill="#20b420" fill-opacity="0.59"/><ellipse cx="30" cy="70" rx="4" ry="4" fill="#20b420" fill-opacity="0.42"/><ellipse cx="600" cy="180" rx="17" ry="7" fill="#20b420" fill-opacity="0.26"/></g><g filter="url(#fa)"><path d="M97.0 86.0L115.5 49.5L104.2 49.5L104.2 38.0L89.8 38.0L89.8 49.5L78.5 49.5Z" fill="#fff"/><path d="M172.0 130.0L190.5 93.5L179.2 93.5L179.2 82.0L164.8 82.0L164.8 93.5L153.5 93.5Z" fill="#fff"/><path d="M290.0 86.0L308.5 49.5L297.2 49.5L297.2 38.0L282.8 38.0L282.8 49.5L271.5 49.5Z" fill="#fff"/><path d="M522.0 73.0L540.5 109.5L529.2 109.5L529.2 121.0L514.8 121.0L514.8 109.5L503.5 109.5Z" fill="#fff"/><path d="M607.0 166.0L625.5 129.5L614.2 129.5L614.2 118.0L599.8 118.0L599.8 129.5L588.5 129.5Z" fill="#fff"/><rect x="17" y="198" width="92" height="13" fill="#fff"/></g></g></g>
<line x1="531.6" y1="47.29999999999999" x2="531.6" y2="221.5" stroke="#141414" stroke-width="1.8" stroke-linecap="butt"/>
<line x1="531.6" y1="220.6" x2="647.5" y2="220.6" stroke="#141414" stroke-width="1.8" stroke-linecap="butt"/>
<line x1="527.1" y1="220.6" x2="531.6" y2="220.6" stroke="#141414" stroke-width="1.5" stroke-linecap="butt"/>
<text x="526" y="225.2" font-size="12.2" font-weight="bold" text-anchor="end" fill="#111" transform="translate(526 225.2) scale(1 1.04) translate(-526 -225.2)">0.0</text>
<line x1="527.1" y1="186.12" x2="531.6" y2="186.12" stroke="#141414" stroke-width="1.5" stroke-linecap="butt"/>
<text x="526" y="190.72" font-size="12.2" font-weight="bold" text-anchor="end" fill="#111" transform="translate(526 190.72) scale(1 1.04) translate(-526 -190.72)">0.2</text>
<line x1="527.1" y1="151.64" x2="531.6" y2="151.64" stroke="#141414" stroke-width="1.5" stroke-linecap="butt"/>
<text x="526" y="156.23999999999998" font-size="12.2" font-weight="bold" text-anchor="end" fill="#111" transform="translate(526 156.23999999999998) scale(1 1.04) translate(-526 -156.23999999999998)">0.4</text>
<line x1="527.1" y1="117.16" x2="531.6" y2="117.16" stroke="#141414" stroke-width="1.5" stroke-linecap="butt"/>
<text x="526" y="121.75999999999999" font-size="12.2" font-weight="bold" text-anchor="end" fill="#111" transform="translate(526 121.75999999999999) scale(1 1.04) translate(-526 -121.75999999999999)">0.6</text>
<line x1="527.1" y1="82.67999999999998" x2="531.6" y2="82.67999999999998" stroke="#141414" stroke-width="1.5" stroke-linecap="butt"/>
<text x="526" y="87.27999999999997" font-size="12.2" font-weight="bold" text-anchor="end" fill="#111" transform="translate(526 87.27999999999997) scale(1 1.04) translate(-526 -87.27999999999997)">0.8</text>
<line x1="527.1" y1="48.19999999999999" x2="531.6" y2="48.19999999999999" stroke="#141414" stroke-width="1.5" stroke-linecap="butt"/>
<text x="526" y="52.79999999999999" font-size="12.2" font-weight="bold" text-anchor="end" fill="#111" transform="translate(526 52.79999999999999) scale(1 1.04) translate(-526 -52.79999999999999)">1.0</text>
<rect x="538.80" y="176.29" width="23.40" height="44.31" fill="#fff" stroke="#141414" stroke-width="1.9"/>
<line x1="550.5" y1="220.6" x2="550.5" y2="224.5" stroke="#141414" stroke-width="1.5" stroke-linecap="butt"/>
<rect x="577.30" y="105.61" width="23.40" height="114.99" fill="#d6d6d6" stroke="#141414" stroke-width="1.9"/>
<line x1="589" y1="220.6" x2="589" y2="224.5" stroke="#141414" stroke-width="1.5" stroke-linecap="butt"/>
<rect x="616.00" y="74.92" width="23.40" height="145.68" fill="#7f7f7f" stroke="#141414" stroke-width="1.9"/>
<line x1="627.7" y1="220.6" x2="627.7" y2="224.5" stroke="#141414" stroke-width="1.5" stroke-linecap="butt"/>
<line x1="550.5" y1="164.57" x2="550.5" y2="187.844" stroke="#1a1a1a" stroke-width="1.9" stroke-linecap="butt"/><line x1="545.0" y1="164.57" x2="556.0" y2="164.57" stroke="#1a1a1a" stroke-width="1.9" stroke-linecap="butt"/><line x1="545.0" y1="187.844" x2="556.0" y2="187.844" stroke="#1a1a1a" stroke-width="1.9" stroke-linecap="butt"/>
<circle cx="550.5" cy="164.57" r="3.3" fill="#333" stroke="none" stroke-width="1.2"/>
<circle cx="554.5" cy="177.5" r="3.3" fill="#333" stroke="none" stroke-width="1.2"/>
<circle cx="546" cy="186.12" r="3.3" fill="#333" stroke="none" stroke-width="1.2"/>
<line x1="589" y1="86.98999999999998" x2="589" y2="122.332" stroke="#1a1a1a" stroke-width="1.9" stroke-linecap="butt"/><line x1="583.5" y1="86.98999999999998" x2="594.5" y2="86.98999999999998" stroke="#1a1a1a" stroke-width="1.9" stroke-linecap="butt"/><line x1="583.5" y1="122.332" x2="594.5" y2="122.332" stroke="#1a1a1a" stroke-width="1.9" stroke-linecap="butt"/>
<rect x="578.00" y="91.75" width="6" height="6" fill="#333" stroke="none" stroke-width="1.2"/>
<rect x="594.00" y="88.30" width="6" height="6" fill="#333" stroke="none" stroke-width="1.2"/>
<rect x="586.00" y="93.47" width="6" height="6" fill="#333" stroke="none" stroke-width="1.2"/>
<rect x="586.00" y="126.23" width="6" height="6" fill="#333" stroke="none" stroke-width="1.2"/>
<line x1="627.7" y1="69.75" x2="627.7" y2="79.232" stroke="#1a1a1a" stroke-width="1.9" stroke-linecap="butt"/><line x1="622.2" y1="69.75" x2="633.2" y2="69.75" stroke="#1a1a1a" stroke-width="1.9" stroke-linecap="butt"/><line x1="622.2" y1="79.232" x2="633.2" y2="79.232" stroke="#1a1a1a" stroke-width="1.9" stroke-linecap="butt"/>
<path d="M616.25 72.67L622.75 72.67L619.50 66.83Z" fill="#333" stroke="none" stroke-width="1.2" stroke-linejoin="miter"/>
<path d="M624.45 80.43L630.95 80.43L627.70 74.58Z" fill="#333" stroke="none" stroke-width="1.2" stroke-linejoin="miter"/>
<path d="M632.75 78.71L639.25 78.71L636.00 72.86Z" fill="#333" stroke="none" stroke-width="1.2" stroke-linejoin="miter"/>
<line x1="549.6" y1="56.4" x2="626.6" y2="56.4" stroke="#000" stroke-width="2" stroke-linecap="butt"/>
<line x1="548.3" y1="79.3" x2="590.3" y2="79.3" stroke="#000" stroke-width="2" stroke-linecap="butt"/>
<text x="586.55" y="61.52" font-size="21.5" font-weight="normal" text-anchor="middle" letter-spacing="1.5" stroke="#000" stroke-width="0.5">****</text>
<text x="570.95" y="84.53" font-size="21.5" font-weight="normal" text-anchor="middle" letter-spacing="1.5" stroke="#000" stroke-width="0.5">***</text>
<text x="501" y="134.5" font-size="14" font-weight="normal" text-anchor="middle" fill="#111" transform="rotate(-90 501 134.5) translate(501 134.5) scale(1 1.04) translate(-501 -134.5)">Cavin-4+ / Total nuclei</text>
<text x="554.5" y="235" font-size="12.3" font-weight="bold" text-anchor="end" fill="#111" transform="rotate(-45 554.5 235) translate(554.5 235) scale(1 1.04) translate(-554.5 -235)">WT</text>
<text x="580.8" y="246.2" font-size="12.3" font-weight="bold" text-anchor="end" fill="#111" transform="rotate(-45 580.8 246.2) translate(580.8 246.2) scale(1 1.04) translate(-580.8 -246.2)">MDX</text>
<text x="577" y="242.7" font-size="9.2" fill="#111" transform="rotate(-45 577 242.7) translate(577 242.7) scale(1 1.04) translate(-577 -242.7)">5CV</text>
<text x="631.3" y="234.5" font-size="12.3" font-weight="bold" text-anchor="end" fill="#111" transform="rotate(-45 631.3 234.5) translate(631.3 234.5) scale(1 1.04) translate(-631.3 -234.5)"><tspan font-weight="normal">µ</tspan>DYS</text>
<text x="14" y="322.7" font-size="15.5" font-weight="normal" text-anchor="start" fill="#000" transform="translate(14 322.7) scale(1 1.04) translate(-14 -322.7)">kDa</text>
<text x="101.7" y="308.3" font-size="15.5" font-weight="bold" text-anchor="middle" fill="#000" transform="translate(101.7 308.3) scale(1 1.04) translate(-101.7 -308.3)">WT</text>
<text x="158" y="308.3" font-size="15.5" font-weight="bold" transform="translate(158 308.3) scale(1 1.04) translate(-158 -308.3)">MDX<tspan font-size="11" dy="-5.5">5CV</tspan></text>
<text x="273.5" y="308.3" font-size="15.5" font-weight="bold" text-anchor="middle" fill="#000" transform="translate(273.5 308.3) scale(1 1.04) translate(-273.5 -308.3)">µDYS</text>
<line x1="63.6" y1="318.5" x2="150" y2="318.5" stroke="#111" stroke-width="1.5" stroke-linecap="butt"/>
<line x1="157" y1="318.5" x2="235.4" y2="318.5" stroke="#111" stroke-width="1.5" stroke-linecap="butt"/>
<line x1="242.6" y1="318.5" x2="327" y2="318.5" stroke="#111" stroke-width="1.5" stroke-linecap="butt"/>
<text x="15.3" y="354.3" font-size="15.9" font-weight="normal" text-anchor="start" fill="#000" transform="translate(15.3 354.3) scale(1 1.04) translate(-15.3 -354.3)">38</text>
<line x1="45" y1="353.3" x2="57.4" y2="353.3" stroke="#1a1a1a" stroke-width="1.5" stroke-linecap="butt"/>
<text x="15.3" y="388.8" font-size="15.9" font-weight="normal" text-anchor="start" fill="#000" transform="translate(15.3 388.8) scale(1 1.04) translate(-15.3 -388.8)">38</text>
<line x1="45" y1="384.9" x2="57.4" y2="384.9" stroke="#1a1a1a" stroke-width="1.5" stroke-linecap="butt"/>
<text x="15.3" y="421.9" font-size="15.9" font-weight="normal" text-anchor="start" fill="#000" transform="translate(15.3 421.9) scale(1 1.04) translate(-15.3 -421.9)">38</text>
<line x1="45" y1="421.3" x2="57.4" y2="421.3" stroke="#1a1a1a" stroke-width="1.5" stroke-linecap="butt"/>
<text x="15.3" y="444" font-size="15.9" font-weight="normal" text-anchor="start" fill="#000" transform="translate(15.3 444) scale(1 1.04) translate(-15.3 -444)">38</text>
<line x1="45" y1="441.5" x2="57.4" y2="441.5" stroke="#1a1a1a" stroke-width="1.5" stroke-linecap="butt"/>
<defs><filter id="bb" x="-5%" y="-30%" width="110%" height="160%"><feTurbulence type="fractalNoise" baseFrequency="0.09 0.2" numOctaves="2" seed="4" result="n"/><feDisplacementMap in="SourceGraphic" in2="n" scale="3.2" xChannelSelector="R" yChannelSelector="G" result="d"/><feGaussianBlur in="d" stdDeviation="1.2 0.8"/></filter><filter id="bb2" x="-5%" y="-30%" width="110%" height="160%"><feTurbulence type="fractalNoise" baseFrequency="0.08 0.15" numOctaves="2" seed="9" result="n"/><feDisplacementMap in="SourceGraphic" in2="n" scale="5" xChannelSelector="R" yChannelSelector="G" result="d"/><feGaussianBlur in="d" stdDeviation="1.7 1.6"/></filter><filter id="bb3" x="-5%" y="-30%" width="110%" height="160%"><feGaussianBlur stdDeviation="2 2.2"/></filter><clipPath id="cb0"><rect x="57.4" y="325" width="274" height="27.5"/></clipPath><clipPath id="cb1"><rect x="57.4" y="358.6" width="274" height="26.7"/></clipPath><clipPath id="cb2"><rect x="57.4" y="390" width="274" height="32.2"/></clipPath><clipPath id="cb3"><rect x="57.4" y="428.2" width="274" height="22.8"/></clipPath></defs><g clip-path="url(#cb0)"><rect x="57.4" y="325" width="274.0" height="27.5" fill="#cdcdcd"/><g filter="url(#bb2)"><rect x="60.6" y="331.3" width="14.0" height="7.0" rx="1.5" fill="#4a4a4a" fill-opacity="0.35"/><rect x="79.5" y="331.3" width="14.0" height="7.0" rx="1.5" fill="#4a4a4a" fill-opacity="0.30"/><rect x="98.2" y="331.3" width="14.0" height="7.0" rx="1.5" fill="#4a4a4a" fill-opacity="0.35"/><rect x="117.3" y="331.3" width="14.0" height="7.0" rx="1.5" fill="#4a4a4a" fill-opacity="0.40"/><rect x="137.6" y="331.3" width="14.0" height="7.0" rx="1.5" fill="#4a4a4a" fill-opacity="0.35"/><rect x="155.6" y="331.3" width="14.0" height="7.0" rx="1.5" fill="#4a4a4a" fill-opacity="0.45"/><rect x="173.2" y="331.3" width="14.0" height="7.0" rx="1.5" fill="#4a4a4a" fill-opacity="0.40"/><rect x="189.0" y="331.3" width="14.0" height="7.0" rx="1.5" fill="#4a4a4a" fill-opacity="0.40"/><rect x="206.6" y="331.3" width="14.0" height="7.0" rx="1.5" fill="#4a4a4a" fill-opacity="0.45"/><rect x="224.2" y="331.3" width="14.0" height="7.0" rx="1.5" fill="#4a4a4a" fill-opacity="0.50"/><rect x="242.0" y="331.3" width="14.0" height="7.0" rx="1.5" fill="#4a4a4a" fill-opacity="0.30"/><rect x="259.6" y="331.3" width="14.0" height="7.0" rx="1.5" fill="#4a4a4a" fill-opacity="0.28"/><rect x="277.1" y="331.3" width="14.0" height="7.0" rx="1.5" fill="#4a4a4a" fill-opacity="0.28"/><rect x="294.5" y="331.3" width="14.0" height="7.0" rx="1.5" fill="#4a4a4a" fill-opacity="0.35"/><rect x="312.5" y="331.3" width="14.0" height="7.0" rx="1.5" fill="#4a4a4a" fill-opacity="0.25"/></g><g filter="url(#bb)"><rect x="61.1" y="343.6" width="13.0" height="3.6" rx="1.5" fill="#0a0a0a" fill-opacity="0.75"/><rect x="80.0" y="343.6" width="13.0" height="3.6" rx="1.5" fill="#0a0a0a" fill-opacity="0.72"/><rect x="98.7" y="343.6" width="13.0" height="3.6" rx="1.5" fill="#0a0a0a" fill-opacity="0.70"/><rect x="117.8" y="343.6" width="13.0" height="3.6" rx="1.5" fill="#0a0a0a" fill-opacity="0.95"/><rect x="138.1" y="343.6" width="13.0" height="3.6" rx="1.5" fill="#0a0a0a" fill-opacity="0.65"/><rect x="156.1" y="343.6" width="13.0" height="3.6" rx="1.5" fill="#0a0a0a" fill-opacity="0.95"/><rect x="173.7" y="343.6" width="13.0" height="3.6" rx="1.5" fill="#0a0a0a" fill-opacity="0.90"/><rect x="189.5" y="343.6" width="13.0" height="3.6" rx="1.5" fill="#0a0a0a" fill-opacity="0.85"/><rect x="207.1" y="343.6" width="13.0" height="3.6" rx="1.5" fill="#0a0a0a" fill-opacity="0.95"/><rect x="224.7" y="343.6" width="13.0" height="3.6" rx="1.5" fill="#0a0a0a" fill-opacity="0.90"/><rect x="242.5" y="343.6" width="13.0" height="3.6" rx="1.5" fill="#0a0a0a" fill-opacity="0.80"/><rect x="260.1" y="343.6" width="13.0" height="3.6" rx="1.5" fill="#0a0a0a" fill-opacity="0.80"/><rect x="277.6" y="343.6" width="13.0" height="3.6" rx="1.5" fill="#0a0a0a" fill-opacity="0.75"/><rect x="295.0" y="343.6" width="13.0" height="3.6" rx="1.5" fill="#0a0a0a" fill-opacity="0.70"/><rect x="313.0" y="343.6" width="13.0" height="3.6" rx="1.5" fill="#0a0a0a" fill-opacity="0.65"/></g></g><rect x="57.4" y="325" width="274.0" height="27.5" fill="none" stroke="#2a2a2a" stroke-width="1.1"/><g clip-path="url(#cb1)"><rect x="57.4" y="358.6" width="274.0" height="26.7" fill="#d9d9d9"/><g filter="url(#bb2)"><rect x="60.6" y="363.3" width="14.0" height="6.0" rx="1.5" fill="#4a4a4a" fill-opacity="0.12"/><rect x="79.5" y="363.3" width="14.0" height="6.0" rx="1.5" fill="#4a4a4a" fill-opacity="0.12"/><rect x="98.2" y="363.3" width="14.0" height="6.0" rx="1.5" fill="#4a4a4a" fill-opacity="0.14"/><rect x="117.3" y="363.3" width="14.0" height="6.0" rx="1.5" fill="#4a4a4a" fill-opacity="0.10"/><rect x="137.6" y="363.3" width="14.0" height="6.0" rx="1.5" fill="#4a4a4a" fill-opacity="0.15"/><rect x="155.6" y="363.3" width="14.0" height="6.0" rx="1.5" fill="#4a4a4a" fill-opacity="0.40"/><rect x="173.2" y="363.3" width="14.0" height="6.0" rx="1.5" fill="#4a4a4a" fill-opacity="0.40"/><rect x="189.0" y="363.3" width="14.0" height="6.0" rx="1.5" fill="#4a4a4a" fill-opacity="0.30"/><rect x="206.6" y="363.3" width="14.0" height="6.0" rx="1.5" fill="#4a4a4a" fill-opacity="0.35"/><rect x="224.2" y="363.3" width="14.0" height="6.0" rx="1.5" fill="#4a4a4a" fill-opacity="0.50"/><rect x="242.0" y="363.3" width="14.0" height="6.0" rx="1.5" fill="#4a4a4a" fill-opacity="0.30"/><rect x="259.6" y="363.3" width="14.0" height="6.0" rx="1.5" fill="#4a4a4a" fill-opacity="0.30"/><rect x="277.1" y="363.3" width="14.0" height="6.0" rx="1.5" fill="#4a4a4a" fill-opacity="0.30"/><rect x="294.5" y="363.3" width="14.0" height="6.0" rx="1.5" fill="#4a4a4a" fill-opacity="0.28"/><rect x="312.5" y="363.3" width="14.0" height="6.0" rx="1.5" fill="#4a4a4a" fill-opacity="0.22"/></g><g filter="url(#bb)"><rect x="61.1" y="374.5" width="13.0" height="3.0" rx="1.5" fill="#0c0c0c" fill-opacity="0.50"/><rect x="80.0" y="374.5" width="13.0" height="3.0" rx="1.5" fill="#0c0c0c" fill-opacity="0.50"/><rect x="98.7" y="374.5" width="13.0" height="3.0" rx="1.5" fill="#0c0c0c" fill-opacity="0.45"/><rect x="117.8" y="374.5" width="13.0" height="3.0" rx="1.5" fill="#0c0c0c" fill-opacity="0.35"/><rect x="138.1" y="374.5" width="13.0" height="3.0" rx="1.5" fill="#0c0c0c" fill-opacity="0.50"/><rect x="156.1" y="374.5" width="13.0" height="3.0" rx="1.5" fill="#0c0c0c" fill-opacity="0.90"/><rect x="173.7" y="374.5" width="13.0" height="3.0" rx="1.5" fill="#0c0c0c" fill-opacity="0.90"/><rect x="189.5" y="374.5" width="13.0" height="3.0" rx="1.5" fill="#0c0c0c" fill-opacity="0.80"/><rect x="207.1" y="374.5" width="13.0" height="3.0" rx="1.5" fill="#0c0c0c" fill-opacity="0.90"/><rect x="224.7" y="374.5" width="13.0" height="3.0" rx="1.5" fill="#0c0c0c" fill-opacity="0.90"/><rect x="242.5" y="374.5" width="13.0" height="3.0" rx="1.5" fill="#0c0c0c" fill-opacity="0.75"/><rect x="260.1" y="374.5" width="13.0" height="3.0" rx="1.5" fill="#0c0c0c" fill-opacity="0.75"/><rect x="277.6" y="374.5" width="13.0" height="3.0" rx="1.5" fill="#0c0c0c" fill-opacity="0.70"/><rect x="295.0" y="374.5" width="13.0" height="3.0" rx="1.5" fill="#0c0c0c" fill-opacity="0.65"/><rect x="313.0" y="374.5" width="13.0" height="3.0" rx="1.5" fill="#0c0c0c" fill-opacity="0.60"/></g></g><rect x="57.4" y="358.6" width="274.0" height="26.7" fill="none" stroke="#2a2a2a" stroke-width="1.1"/><g clip-path="url(#cb2)"><rect x="57.4" y="390" width="274.0" height="32.2" fill="#260903"/><g filter="url(#bb3)"><rect x="60.1" y="393.0" width="15.0" height="22.0" rx="1.5" fill="#701008" fill-opacity="0.36"/><rect x="60.6" y="399.2" width="14.0" height="4.5" rx="1.5" fill="#d02818" fill-opacity="0.50"/><rect x="79.0" y="393.0" width="15.0" height="22.0" rx="1.5" fill="#701008" fill-opacity="0.36"/><rect x="79.5" y="399.2" width="14.0" height="4.5" rx="1.5" fill="#d02818" fill-opacity="0.50"/><rect x="97.7" y="393.0" width="15.0" height="22.0" rx="1.5" fill="#701008" fill-opacity="0.36"/><rect x="98.2" y="399.2" width="14.0" height="4.5" rx="1.5" fill="#d02818" fill-opacity="0.50"/><rect x="116.8" y="393.0" width="15.0" height="22.0" rx="1.5" fill="#701008" fill-opacity="0.36"/><rect x="117.3" y="399.2" width="14.0" height="4.5" rx="1.5" fill="#d02818" fill-opacity="0.50"/><rect x="137.1" y="393.0" width="15.0" height="22.0" rx="1.5" fill="#701008" fill-opacity="0.36"/><rect x="137.6" y="399.2" width="14.0" height="4.5" rx="1.5" fill="#d02818" fill-opacity="0.50"/><rect x="155.1" y="393.0" width="15.0" height="22.0" rx="1.5" fill="#5a2408" fill-opacity="0.36"/><rect x="155.6" y="398.5" width="14.0" height="4.0" rx="1.5" fill="#d03018" fill-opacity="0.70"/><rect x="155.6" y="403.0" width="14.0" height="5.0" rx="1.5" fill="#6a9a18" fill-opacity="0.55"/><rect x="172.7" y="393.0" width="15.0" height="22.0" rx="1.5" fill="#5a2408" fill-opacity="0.36"/><rect x="173.2" y="398.5" width="14.0" height="4.0" rx="1.5" fill="#d03018" fill-opacity="0.70"/><rect x="173.2" y="403.0" width="14.0" height="5.0" rx="1.5" fill="#6a9a18" fill-opacity="0.55"/><rect x="188.5" y="393.0" width="15.0" height="22.0" rx="1.5" fill="#5a2408" fill-opacity="0.36"/><rect x="189.0" y="398.5" width="14.0" height="4.0" rx="1.5" fill="#d03018" fill-opacity="0.70"/><rect x="189.0" y="403.0" width="14.0" height="5.0" rx="1.5" fill="#6a9a18" fill-opacity="0.55"/><rect x="206.1" y="393.0" width="15.0" height="22.0" rx="1.5" fill="#5a2408" fill-opacity="0.36"/><rect x="206.6" y="398.5" width="14.0" height="4.0" rx="1.5" fill="#d03018" fill-opacity="0.70"/><rect x="206.6" y="403.0" width="14.0" height="5.0" rx="1.5" fill="#6a9a18" fill-opacity="0.55"/><rect x="223.7" y="393.0" width="15.0" height="22.0" rx="1.5" fill="#5a2408" fill-opacity="0.36"/><rect x="224.2" y="398.5" width="14.0" height="4.0" rx="1.5" fill="#d03018" fill-opacity="0.70"/><rect x="224.2" y="403.0" width="14.0" height="5.0" rx="1.5" fill="#6a9a18" fill-opacity="0.55"/><rect x="241.5" y="393.0" width="15.0" height="22.0" rx="1.5" fill="#402208" fill-opacity="0.36"/><rect x="242.0" y="398.5" width="14.0" height="4.0" rx="1.5" fill="#b02a14" fill-opacity="0.60"/><rect x="242.0" y="403.0" width="14.0" height="5.0" rx="1.5" fill="#4a7a14" fill-opacity="0.60"/><rect x="259.1" y="393.0" width="15.0" height="22.0" rx="1.5" fill="#402208" fill-opacity="0.36"/><rect x="259.6" y="398.5" width="14.0" height="4.0" rx="1.5" fill="#b02a14" fill-opacity="0.60"/><rect x="259.6" y="403.0" width="14.0" height="5.0" rx="1.5" fill="#4a7a14" fill-opacity="0.60"/><rect x="276.6" y="393.0" width="15.0" height="22.0" rx="1.5" fill="#402208" fill-opacity="0.36"/><rect x="277.1" y="398.5" width="14.0" height="4.0" rx="1.5" fill="#b02a14" fill-opacity="0.60"/><rect x="277.1" y="403.0" width="14.0" height="5.0" rx="1.5" fill="#4a7a14" fill-opacity="0.60"/><rect x="294.0" y="393.0" width="15.0" height="22.0" rx="1.5" fill="#402208" fill-opacity="0.36"/><rect x="294.5" y="398.5" width="14.0" height="4.0" rx="1.5" fill="#b02a14" fill-opacity="0.60"/><rect x="294.5" y="403.0" width="14.0" height="5.0" rx="1.5" fill="#4a7a14" fill-opacity="0.60"/><rect x="312.0" y="393.0" width="15.0" height="22.0" rx="1.5" fill="#402208" fill-opacity="0.36"/><rect x="312.5" y="398.5" width="14.0" height="4.0" rx="1.5" fill="#b02a14" fill-opacity="0.60"/><rect x="312.5" y="403.0" width="14.0" height="5.0" rx="1.5" fill="#4a7a14" fill-opacity="0.60"/><rect x="224.2" y="390.5" width="14.0" height="5.0" rx="1.5" fill="#3aa020" fill-opacity="0.80"/></g><g filter="url(#bb)"><rect x="61.1" y="412.1" width="13.0" height="3.4" rx="1.5" fill="#ff6a30" fill-opacity="0.95"/><rect x="62.1" y="413.5" width="11.0" height="1.6" rx="0.8" fill="#ffc060" fill-opacity="0.70"/><rect x="80.0" y="412.1" width="13.0" height="3.4" rx="1.5" fill="#ff6a30" fill-opacity="0.95"/><rect x="81.0" y="413.5" width="11.0" height="1.6" rx="0.8" fill="#ffc060" fill-opacity="0.70"/><rect x="98.7" y="412.1" width="13.0" height="3.4" rx="1.5" fill="#ff6a30" fill-opacity="0.95"/><rect x="99.7" y="413.5" width="11.0" height="1.6" rx="0.8" fill="#ffc060" fill-opacity="0.70"/><rect x="117.8" y="412.1" width="13.0" height="3.4" rx="1.5" fill="#ff6a30" fill-opacity="0.95"/><rect x="118.8" y="413.5" width="11.0" height="1.6" rx="0.8" fill="#ffc060" fill-opacity="0.70"/><rect x="138.1" y="412.1" width="13.0" height="3.4" rx="1.5" fill="#ff6a30" fill-opacity="0.95"/><rect x="139.1" y="413.5" width="11.0" height="1.6" rx="0.8" fill="#ffc060" fill-opacity="0.70"/><rect x="156.1" y="412.0" width="13.0" height="3.6" rx="1.5" fill="#e8d838" fill-opacity="0.95"/><rect x="157.1" y="414.0" width="11.0" height="2.0" rx="1.0" fill="#70e030" fill-opacity="0.60"/><rect x="173.7" y="412.0" width="13.0" height="3.6" rx="1.5" fill="#e8d838" fill-opacity="0.95"/><rect x="174.7" y="414.0" width="11.0" height="2.0" rx="1.0" fill="#70e030" fill-opacity="0.60"/><rect x="189.5" y="412.0" width="13.0" height="3.6" rx="1.5" fill="#e8d838" fill-opacity="0.95"/><rect x="190.5" y="414.0" width="11.0" height="2.0" rx="1.0" fill="#70e030" fill-opacity="0.60"/><rect x="207.1" y="412.0" width="13.0" height="3.6" rx="1.5" fill="#e8d838" fill-opacity="0.95"/><rect x="208.1" y="414.0" width="11.0" height="2.0" rx="1.0" fill="#70e030" fill-opacity="0.60"/><rect x="224.7" y="412.0" width="13.0" height="3.6" rx="1.5" fill="#e8d838" fill-opacity="0.95"/><rect x="225.7" y="414.0" width="11.0" height="2.0" rx="1.0" fill="#70e030" fill-opacity="0.60"/><rect x="242.5" y="412.2" width="13.0" height="3.2" rx="1.5" fill="#c8c838" fill-opacity="0.85"/><rect x="260.1" y="412.2" width="13.0" height="3.2" rx="1.5" fill="#c8c838" fill-opacity="0.85"/><rect x="277.6" y="412.2" width="13.0" height="3.2" rx="1.5" fill="#c8c838" fill-opacity="0.85"/><rect x="295.0" y="412.2" width="13.0" height="3.2" rx="1.5" fill="#c8c838" fill-opacity="0.85"/><rect x="313.0" y="412.2" width="13.0" height="3.2" rx="1.5" fill="#c8c838" fill-opacity="0.85"/></g></g><g clip-path="url(#cb3)"><rect x="57.4" y="428.2" width="274.0" height="22.8" fill="#d6d6d6"/><g filter="url(#bb)"><rect x="62.1" y="433.1" width="11.0" height="1.8" rx="0.9" fill="#444" fill-opacity="0.30"/><rect x="81.0" y="433.1" width="11.0" height="1.8" rx="0.9" fill="#444" fill-opacity="0.30"/><rect x="99.7" y="433.1" width="11.0" height="1.8" rx="0.9" fill="#444" fill-opacity="0.30"/><rect x="118.8" y="433.1" width="11.0" height="1.8" rx="0.9" fill="#444" fill-opacity="0.30"/><rect x="139.1" y="433.1" width="11.0" height="1.8" rx="0.9" fill="#444" fill-opacity="0.30"/><rect x="157.1" y="431.7" width="11.0" height="1.8" rx="0.9" fill="#444" fill-opacity="0.55"/><rect x="174.7" y="431.7" width="11.0" height="1.8" rx="0.9" fill="#444" fill-opacity="0.55"/><rect x="190.5" y="431.7" width="11.0" height="1.8" rx="0.9" fill="#444" fill-opacity="0.55"/><rect x="208.1" y="431.7" width="11.0" height="1.8" rx="0.9" fill="#444" fill-opacity="0.55"/><rect x="225.7" y="431.7" width="11.0" height="1.8" rx="0.9" fill="#444" fill-opacity="0.55"/><rect x="243.5" y="431.7" width="11.0" height="1.8" rx="0.9" fill="#444" fill-opacity="0.55"/><rect x="261.1" y="431.7" width="11.0" height="1.8" rx="0.9" fill="#444" fill-opacity="0.55"/><rect x="278.6" y="431.7" width="11.0" height="1.8" rx="0.9" fill="#444" fill-opacity="0.55"/><rect x="296.0" y="431.7" width="11.0" height="1.8" rx="0.9" fill="#444" fill-opacity="0.55"/><rect x="314.0" y="431.7" width="11.0" height="1.8" rx="0.9" fill="#444" fill-opacity="0.55"/></g><g filter="url(#bb)"><rect x="60.8" y="438.4" width="13.5" height="5.2" rx="1.5" fill="#080808" fill-opacity="0.95"/><rect x="79.8" y="438.4" width="13.5" height="5.2" rx="1.5" fill="#080808" fill-opacity="0.95"/><rect x="98.5" y="438.4" width="13.5" height="5.2" rx="1.5" fill="#080808" fill-opacity="0.95"/><rect x="117.5" y="438.4" width="13.5" height="5.2" rx="1.5" fill="#080808" fill-opacity="0.95"/><rect x="137.8" y="438.4" width="13.5" height="5.2" rx="1.5" fill="#080808" fill-opacity="0.95"/><rect x="155.8" y="436.8" width="13.5" height="5.2" rx="1.5" fill="#080808" fill-opacity="0.95"/><rect x="173.4" y="436.8" width="13.5" height="5.2" rx="1.5" fill="#080808" fill-opacity="0.95"/><rect x="189.2" y="436.8" width="13.5" height="5.2" rx="1.5" fill="#080808" fill-opacity="0.95"/><rect x="206.8" y="436.8" width="13.5" height="5.2" rx="1.5" fill="#080808" fill-opacity="0.95"/><rect x="224.4" y="436.8" width="13.5" height="5.2" rx="1.5" fill="#080808" fill-opacity="0.95"/><rect x="242.2" y="436.8" width="13.5" height="5.2" rx="1.5" fill="#080808" fill-opacity="0.95"/><rect x="259.9" y="436.8" width="13.5" height="5.2" rx="1.5" fill="#080808" fill-opacity="0.95"/><rect x="277.4" y="436.8" width="13.5" height="5.2" rx="1.5" fill="#080808" fill-opacity="0.95"/><rect x="294.8" y="436.8" width="13.5" height="5.2" rx="1.5" fill="#080808" fill-opacity="0.95"/><rect x="312.8" y="436.8" width="13.5" height="5.2" rx="1.5" fill="#080808" fill-opacity="0.95"/></g></g><rect x="57.4" y="428.2" width="274.0" height="22.8" fill="none" stroke="#2a2a2a" stroke-width="1.1"/>
<text x="338" y="344.5" font-size="15.5" font-weight="normal" text-anchor="start" fill="#d9414e" transform="translate(338 344.5) scale(1 1.04) translate(-338 -344.5)">pERK1/2</text>
<text x="337.5" y="377.5" font-size="15.5" font-weight="normal" text-anchor="start" fill="#3aa35f" transform="translate(337.5 377.5) scale(1 1.04) translate(-337.5 -377.5)">ERK1/2</text>
<text x="339" y="414" font-size="15.5" font-weight="normal" text-anchor="start" fill="#000" transform="translate(339 414) scale(1 1.04) translate(-339 -414)">Merge</text>
<text x="336.5" y="442" font-size="15.5" font-weight="normal" text-anchor="start" fill="#000" transform="translate(336.5 442) scale(1 1.04) translate(-336.5 -442)">GAPDH</text>
<line x1="447.4" y1="300.70000000000005" x2="447.4" y2="426.9" stroke="#141414" stroke-width="1.8" stroke-linecap="butt"/>
<line x1="447.4" y1="426" x2="648" y2="426" stroke="#141414" stroke-width="1.8" stroke-linecap="butt"/>
<line x1="442.9" y1="426.0" x2="447.4" y2="426.0" stroke="#141414" stroke-width="1.5" stroke-linecap="butt"/>
<text x="442.5" y="430.3" font-size="12" font-weight="bold" text-anchor="end" fill="#111" transform="translate(442.5 430.3) scale(1 1.04) translate(-442.5 -430.3)">0.0</text>
<line x1="442.9" y1="394.9" x2="447.4" y2="394.9" stroke="#141414" stroke-width="1.5" stroke-linecap="butt"/>
<text x="442.5" y="399.2" font-size="12" font-weight="bold" text-anchor="end" fill="#111" transform="translate(442.5 399.2) scale(1 1.04) translate(-442.5 -399.2)">0.5</text>
<line x1="442.9" y1="363.8" x2="447.4" y2="363.8" stroke="#141414" stroke-width="1.5" stroke-linecap="butt"/>
<text x="442.5" y="368.1" font-size="12" font-weight="bold" text-anchor="end" fill="#111" transform="translate(442.5 368.1) scale(1 1.04) translate(-442.5 -368.1)">1.0</text>
<line x1="442.9" y1="332.7" x2="447.4" y2="332.7" stroke="#141414" stroke-width="1.5" stroke-linecap="butt"/>
<text x="442.5" y="337.0" font-size="12" font-weight="bold" text-anchor="end" fill="#111" transform="translate(442.5 337.0) scale(1 1.04) translate(-442.5 -337.0)">1.5</text>
<line x1="442.9" y1="301.6" x2="447.4" y2="301.6" stroke="#141414" stroke-width="1.5" stroke-linecap="butt"/>
<text x="442.5" y="305.90000000000003" font-size="12" font-weight="bold" text-anchor="end" fill="#111" transform="translate(442.5 305.90000000000003) scale(1 1.04) translate(-442.5 -305.90000000000003)">2.0</text>
<rect x="460.10" y="364.73" width="18.20" height="61.27" fill="#fff" stroke="#141414" stroke-width="1.8"/>
<line x1="469.2" y1="426" x2="469.2" y2="429.5" stroke="#141414" stroke-width="1.5" stroke-linecap="butt"/>
<rect x="491.40" y="406.10" width="18.20" height="19.90" fill="#d6d6d6" stroke="#141414" stroke-width="1.8"/>
<line x1="500.5" y1="426" x2="500.5" y2="429.5" stroke="#141414" stroke-width="1.5" stroke-linecap="butt"/>
<rect x="522.90" y="412.32" width="18.20" height="13.68" fill="#7f7f7f" stroke="#141414" stroke-width="1.8"/>
<line x1="532" y1="426" x2="532" y2="429.5" stroke="#141414" stroke-width="1.5" stroke-linecap="butt"/>
<rect x="554.20" y="364.11" width="18.20" height="61.89" fill="#fff" stroke="#141414" stroke-width="1.8"/>
<line x1="563.3" y1="426" x2="563.3" y2="429.5" stroke="#141414" stroke-width="1.5" stroke-linecap="butt"/>
<rect x="585.70" y="404.23" width="18.20" height="21.77" fill="#d6d6d6" stroke="#141414" stroke-width="1.8"/>
<line x1="594.8" y1="426" x2="594.8" y2="429.5" stroke="#141414" stroke-width="1.5" stroke-linecap="butt"/>
<rect x="617.40" y="410.45" width="18.20" height="15.55" fill="#7f7f7f" stroke="#141414" stroke-width="1.8"/>
<line x1="626.5" y1="426" x2="626.5" y2="429.5" stroke="#141414" stroke-width="1.5" stroke-linecap="butt"/>
<line x1="469.2" y1="343.6" x2="469.2" y2="384" stroke="#1a1a1a" stroke-width="1.8" stroke-linecap="butt"/><line x1="464.2" y1="343.6" x2="474.2" y2="343.6" stroke="#1a1a1a" stroke-width="1.8" stroke-linecap="butt"/><line x1="464.2" y1="384" x2="474.2" y2="384" stroke="#1a1a1a" stroke-width="1.8" stroke-linecap="butt"/>
<circle cx="469" cy="335.6" r="2.7" fill="#333" stroke="none" stroke-width="1.2"/>
<circle cx="462.6" cy="362.4" r="2.7" fill="#333" stroke="none" stroke-width="1.2"/>
<circle cx="469.2" cy="365" r="2.7" fill="#333" stroke="none" stroke-width="1.2"/>
<circle cx="475.8" cy="362.4" r="2.7" fill="#333" stroke="none" stroke-width="1.2"/>
<circle cx="469" cy="392.4" r="2.7" fill="#333" stroke="none" stroke-width="1.2"/>
<line x1="500.5" y1="401.5" x2="500.5" y2="410.5" stroke="#1a1a1a" stroke-width="1.8" stroke-linecap="butt"/><line x1="495.5" y1="401.5" x2="505.5" y2="401.5" stroke="#1a1a1a" stroke-width="1.8" stroke-linecap="butt"/><line x1="495.5" y1="410.5" x2="505.5" y2="410.5" stroke="#1a1a1a" stroke-width="1.8" stroke-linecap="butt"/>
<rect x="498.00" y="398.50" width="5" height="5" fill="#333" stroke="none" stroke-width="1.2"/>
<rect x="491.50" y="405.00" width="5" height="5" fill="#333" stroke="none" stroke-width="1.2"/>
<rect x="498.00" y="406.00" width="5" height="5" fill="#333" stroke="none" stroke-width="1.2"/>
<rect x="504.50" y="405.00" width="5" height="5" fill="#333" stroke="none" stroke-width="1.2"/>
<rect x="498.00" y="408.50" width="5" height="5" fill="#333" stroke="none" stroke-width="1.2"/>
<line x1="532" y1="406" x2="532" y2="418" stroke="#1a1a1a" stroke-width="1.8" stroke-linecap="butt"/><line x1="527" y1="406" x2="537" y2="406" stroke="#1a1a1a" stroke-width="1.8" stroke-linecap="butt"/><line x1="527" y1="418" x2="537" y2="418" stroke="#1a1a1a" stroke-width="1.8" stroke-linecap="butt"/>
<path d="M529.00 408.20L535.00 408.20L532.00 402.80Z" fill="#333" stroke="none" stroke-width="1.2" stroke-linejoin="miter"/>
<path d="M524.00 415.70L530.00 415.70L527.00 410.30Z" fill="#333" stroke="none" stroke-width="1.2" stroke-linejoin="miter"/>
<path d="M534.00 415.20L540.00 415.20L537.00 409.80Z" fill="#333" stroke="none" stroke-width="1.2" stroke-linejoin="miter"/>
<path d="M529.00 418.70L535.00 418.70L532.00 413.30Z" fill="#333" stroke="none" stroke-width="1.2" stroke-linejoin="miter"/>
<line x1="563.3" y1="340.6" x2="563.3" y2="386.4" stroke="#1a1a1a" stroke-width="1.8" stroke-linecap="butt"/><line x1="558.3" y1="340.6" x2="568.3" y2="340.6" stroke="#1a1a1a" stroke-width="1.8" stroke-linecap="butt"/><line x1="558.3" y1="386.4" x2="568.3" y2="386.4" stroke="#1a1a1a" stroke-width="1.8" stroke-linecap="butt"/>
<circle cx="559" cy="367.4" r="2.7" fill="#333" stroke="none" stroke-width="1.2"/>
<circle cx="567" cy="364.6" r="2.7" fill="#333" stroke="none" stroke-width="1.2"/>
<circle cx="563.3" cy="376" r="2.7" fill="#333" stroke="none" stroke-width="1.2"/>
<circle cx="563.3" cy="385" r="2.7" fill="#333" stroke="none" stroke-width="1.2"/>
<circle cx="563" cy="325" r="2.7" fill="#333" stroke="none" stroke-width="1.2"/>
<line x1="594.8" y1="395" x2="594.8" y2="411" stroke="#1a1a1a" stroke-width="1.8" stroke-linecap="butt"/><line x1="589.8" y1="395" x2="599.8" y2="395" stroke="#1a1a1a" stroke-width="1.8" stroke-linecap="butt"/><line x1="589.8" y1="411" x2="599.8" y2="411" stroke="#1a1a1a" stroke-width="1.8" stroke-linecap="butt"/>
<rect x="592.30" y="389.50" width="5" height="5" fill="#333" stroke="none" stroke-width="1.2"/>
<rect x="587.50" y="399.50" width="5" height="5" fill="#333" stroke="none" stroke-width="1.2"/>
<rect x="597.00" y="399.50" width="5" height="5" fill="#333" stroke="none" stroke-width="1.2"/>
<rect x="588.00" y="408.50" width="5" height="5" fill="#333" stroke="none" stroke-width="1.2"/>
<rect x="596.50" y="408.50" width="5" height="5" fill="#333" stroke="none" stroke-width="1.2"/>
<line x1="626.5" y1="404.5" x2="626.5" y2="416" stroke="#1a1a1a" stroke-width="1.8" stroke-linecap="butt"/><line x1="621.5" y1="404.5" x2="631.5" y2="404.5" stroke="#1a1a1a" stroke-width="1.8" stroke-linecap="butt"/><line x1="621.5" y1="416" x2="631.5" y2="416" stroke="#1a1a1a" stroke-width="1.8" stroke-linecap="butt"/>
<path d="M618.00 408.20L624.00 408.20L621.00 402.80Z" fill="#333" stroke="none" stroke-width="1.2" stroke-linejoin="miter"/>
<path d="M629.00 408.20L635.00 408.20L632.00 402.80Z" fill="#333" stroke="none" stroke-width="1.2" stroke-linejoin="miter"/>
<path d="M623.50 414.20L629.50 414.20L626.50 408.80Z" fill="#333" stroke="none" stroke-width="1.2" stroke-linejoin="miter"/>
<path d="M623.50 418.70L629.50 418.70L626.50 413.30Z" fill="#333" stroke="none" stroke-width="1.2" stroke-linejoin="miter"/>
<line x1="464" y1="307.6" x2="528.6" y2="307.6" stroke="#000" stroke-width="2.1" stroke-linecap="butt"/>
<line x1="466" y1="324" x2="496.4" y2="324" stroke="#000" stroke-width="2.1" stroke-linecap="butt"/>
<line x1="560.4" y1="307.6" x2="625.4" y2="307.6" stroke="#000" stroke-width="2.1" stroke-linecap="butt"/>
<line x1="563" y1="323.6" x2="592.4" y2="323.6" stroke="#000" stroke-width="2.1" stroke-linecap="butt"/>
<text x="498.40" y="311.25" font-size="17" font-weight="bold" text-anchor="middle">***</text>
<text x="482.60" y="328.25" font-size="17" font-weight="bold" text-anchor="middle">***</text>
<text x="593.00" y="311.25" font-size="17" font-weight="bold" text-anchor="middle">***</text>
<text x="575.50" y="328.25" font-size="17" font-weight="bold" text-anchor="middle">**</text>
<text x="420" y="360.8" font-size="13.5" font-weight="bold" text-anchor="middle" fill="#111" transform="rotate(-90 420 360.8) translate(420 360.8) scale(1 1.04) translate(-420 -360.8)">pERK / ERK</text>
<text x="472.7" y="439" font-size="12.3" font-weight="bold" text-anchor="end" fill="#111" transform="rotate(-45 472.7 439) translate(472.7 439) scale(1 1.04) translate(-472.7 -439)">WT</text>
<text x="566.8" y="439" font-size="12.3" font-weight="bold" text-anchor="end" fill="#111" transform="rotate(-45 566.8 439) translate(566.8 439) scale(1 1.04) translate(-566.8 -439)">WT</text>
<text x="491.0" y="452" font-size="12.3" font-weight="bold" text-anchor="end" fill="#111" transform="rotate(-45 491.0 452) translate(491.0 452) scale(1 1.04) translate(-491.0 -452)">MDX</text>
<text x="487.3" y="448.3" font-size="9.2" fill="#111" transform="rotate(-45 487.3 448.3) translate(487.3 448.3) scale(1 1.04) translate(-487.3 -448.3)">5CV</text>
<text x="585.3" y="452" font-size="12.3" font-weight="bold" text-anchor="end" fill="#111" transform="rotate(-45 585.3 452) translate(585.3 452) scale(1 1.04) translate(-585.3 -452)">MDX</text>
<text x="581.5999999999999" y="448.3" font-size="9.2" fill="#111" transform="rotate(-45 581.5999999999999 448.3) translate(581.5999999999999 448.3) scale(1 1.04) translate(-581.5999999999999 -448.3)">5CV</text>
<text x="536.5" y="439" font-size="12.3" font-weight="bold" text-anchor="end" fill="#111" transform="rotate(-45 536.5 439) translate(536.5 439) scale(1 1.04) translate(-536.5 -439)"><tspan font-weight="normal">µ</tspan>DYS</text>
<text x="631.0" y="439" font-size="12.3" font-weight="bold" text-anchor="end" fill="#111" transform="rotate(-45 631.0 439) translate(631.0 439) scale(1 1.04) translate(-631.0 -439)"><tspan font-weight="normal">µ</tspan>DYS</text>
<line x1="457.7" y1="481.9" x2="546.3" y2="481.9" stroke="#0a0a0a" stroke-width="2.1" stroke-linecap="butt"/>
<line x1="554" y1="481.9" x2="643" y2="481.9" stroke="#0a0a0a" stroke-width="2.1" stroke-linecap="butt"/>
<text x="505" y="496.4" font-size="13.8" font-weight="normal" text-anchor="middle" fill="#222" transform="translate(505 496.4) scale(1 1.04) translate(-505 -496.4)">ERK1 (p44)</text>
<text x="605.3" y="496.4" font-size="13.8" font-weight="normal" text-anchor="middle" fill="#222" transform="translate(605.3 496.4) scale(1 1.04) translate(-605.3 -496.4)">ERK2 (p42)</text>
<line x1="54.6" y1="533.1" x2="54.6" y2="740" stroke="#0a0a0a" stroke-width="1.9" stroke-linecap="butt"/>
<line x1="53.7" y1="739" x2="450" y2="739" stroke="#0a0a0a" stroke-width="2.1" stroke-linecap="butt"/>
<line x1="49.6" y1="739.0" x2="54.6" y2="739.0" stroke="#0a0a0a" stroke-width="1.8" stroke-linecap="butt"/>
<text x="47" y="743.3" font-size="12.3" font-weight="bold" text-anchor="end" fill="#0a0a0a" transform="translate(47 743.3) scale(1 1.04) translate(-47 -743.3)">0</text>
<line x1="49.6" y1="687.75" x2="54.6" y2="687.75" stroke="#0a0a0a" stroke-width="1.8" stroke-linecap="butt"/>
<text x="47" y="692.05" font-size="12.3" font-weight="bold" text-anchor="end" fill="#0a0a0a" transform="translate(47 692.05) scale(1 1.04) translate(-47 -692.05)">1</text>
<line x1="49.6" y1="636.5" x2="54.6" y2="636.5" stroke="#0a0a0a" stroke-width="1.8" stroke-linecap="butt"/>
<text x="47" y="640.8" font-size="12.3" font-weight="bold" text-anchor="end" fill="#0a0a0a" transform="translate(47 640.8) scale(1 1.04) translate(-47 -640.8)">2</text>
<line x1="49.6" y1="585.25" x2="54.6" y2="585.25" stroke="#0a0a0a" stroke-width="1.8" stroke-linecap="butt"/>
<text x="47" y="589.55" font-size="12.3" font-weight="bold" text-anchor="end" fill="#0a0a0a" transform="translate(47 589.55) scale(1 1.04) translate(-47 -589.55)">3</text>
<line x1="49.6" y1="534.0" x2="54.6" y2="534.0" stroke="#0a0a0a" stroke-width="1.8" stroke-linecap="butt"/>
<text x="47" y="538.3" font-size="12.3" font-weight="bold" text-anchor="end" fill="#0a0a0a" transform="translate(47 538.3) scale(1 1.04) translate(-47 -538.3)">4</text>
<text x="32.3" y="636" font-size="16.4" font-weight="normal" text-anchor="middle" fill="#111" transform="rotate(-90 32.3 636) translate(32.3 636) scale(1 1.04) translate(-32.3 -636)">Relative Fold Change</text>
<line x1="100.3" y1="739" x2="100.3" y2="744" stroke="#0a0a0a" stroke-width="1.8" stroke-linecap="butt"/>
<text x="100.3" y="757" font-size="12.5" font-weight="bold" text-anchor="middle" fill="#0a0a0a" transform="translate(100.3 757) scale(1 1.04) translate(-100.3 -757)">Nppa</text>
<rect x="64.90" y="688.26" width="16.00" height="50.74" fill="#fff" stroke="#0d0d0d" stroke-width="1.7"/>
<line x1="72.9" y1="688.2625" x2="72.9" y2="672.8875" stroke="#0d0d0d" stroke-width="1.7" stroke-linecap="butt"/>
<line x1="68.4" y1="672.8875" x2="77.4" y2="672.8875" stroke="#0d0d0d" stroke-width="1.7" stroke-linecap="butt"/>
<rect x="92.30" y="707.23" width="16.00" height="31.77" fill="#d6d6d6" stroke="#0d0d0d" stroke-width="1.7"/>
<line x1="100.3" y1="707.225" x2="100.3" y2="672.375" stroke="#0d0d0d" stroke-width="1.7" stroke-linecap="butt"/>
<line x1="95.8" y1="672.375" x2="104.8" y2="672.375" stroke="#0d0d0d" stroke-width="1.7" stroke-linecap="butt"/>
<rect x="119.70" y="690.57" width="16.00" height="48.43" fill="#7f7f7f" stroke="#0d0d0d" stroke-width="1.7"/>
<line x1="127.69999999999999" y1="690.56875" x2="127.69999999999999" y2="644.1875" stroke="#0d0d0d" stroke-width="1.7" stroke-linecap="butt"/>
<line x1="123.19999999999999" y1="644.1875" x2="132.2" y2="644.1875" stroke="#0d0d0d" stroke-width="1.7" stroke-linecap="butt"/>
<line x1="200.5" y1="739" x2="200.5" y2="744" stroke="#0a0a0a" stroke-width="1.8" stroke-linecap="butt"/>
<text x="200.5" y="757" font-size="12.5" font-weight="bold" text-anchor="middle" fill="#0a0a0a" transform="translate(200.5 757) scale(1 1.04) translate(-200.5 -757)">Nppb</text>
<rect x="165.10" y="688.26" width="16.00" height="50.74" fill="#fff" stroke="#0d0d0d" stroke-width="1.7"/>
<line x1="173.1" y1="688.2625" x2="173.1" y2="683.1375" stroke="#0d0d0d" stroke-width="1.7" stroke-linecap="butt"/>
<line x1="168.6" y1="683.1375" x2="177.6" y2="683.1375" stroke="#0d0d0d" stroke-width="1.7" stroke-linecap="butt"/>
<rect x="192.50" y="717.48" width="16.00" height="21.52" fill="#d6d6d6" stroke="#0d0d0d" stroke-width="1.7"/>
<line x1="200.5" y1="717.475" x2="200.5" y2="709.7875" stroke="#0d0d0d" stroke-width="1.7" stroke-linecap="butt"/>
<line x1="196.0" y1="709.7875" x2="205.0" y2="709.7875" stroke="#0d0d0d" stroke-width="1.7" stroke-linecap="butt"/>
<rect x="219.90" y="703.12" width="16.00" height="35.88" fill="#7f7f7f" stroke="#0d0d0d" stroke-width="1.7"/>
<line x1="227.9" y1="703.125" x2="227.9" y2="690.825" stroke="#0d0d0d" stroke-width="1.7" stroke-linecap="butt"/>
<line x1="223.4" y1="690.825" x2="232.4" y2="690.825" stroke="#0d0d0d" stroke-width="1.7" stroke-linecap="butt"/>
<line x1="300.7" y1="739" x2="300.7" y2="744" stroke="#0a0a0a" stroke-width="1.8" stroke-linecap="butt"/>
<text x="300.7" y="757" font-size="12.5" font-weight="bold" text-anchor="middle" fill="#0a0a0a" transform="translate(300.7 757) scale(1 1.04) translate(-300.7 -757)">Myh6</text>
<rect x="265.30" y="688.26" width="16.00" height="50.74" fill="#fff" stroke="#0d0d0d" stroke-width="1.7"/>
<line x1="273.3" y1="688.2625" x2="273.3" y2="680.0625" stroke="#0d0d0d" stroke-width="1.7" stroke-linecap="butt"/>
<line x1="268.8" y1="680.0625" x2="277.8" y2="680.0625" stroke="#0d0d0d" stroke-width="1.7" stroke-linecap="butt"/>
<rect x="292.70" y="654.44" width="16.00" height="84.56" fill="#d6d6d6" stroke="#0d0d0d" stroke-width="1.7"/>
<line x1="300.7" y1="654.4375" x2="300.7" y2="632.4" stroke="#0d0d0d" stroke-width="1.7" stroke-linecap="butt"/>
<line x1="296.2" y1="632.4" x2="305.2" y2="632.4" stroke="#0d0d0d" stroke-width="1.7" stroke-linecap="butt"/>
<rect x="320.10" y="580.64" width="16.00" height="158.36" fill="#7f7f7f" stroke="#0d0d0d" stroke-width="1.7"/>
<line x1="328.09999999999997" y1="580.6375" x2="328.09999999999997" y2="544.25" stroke="#0d0d0d" stroke-width="1.7" stroke-linecap="butt"/>
<line x1="323.59999999999997" y1="544.25" x2="332.59999999999997" y2="544.25" stroke="#0d0d0d" stroke-width="1.7" stroke-linecap="butt"/>
<line x1="400.8" y1="739" x2="400.8" y2="744" stroke="#0a0a0a" stroke-width="1.8" stroke-linecap="butt"/>
<text x="400.8" y="757" font-size="12.5" font-weight="bold" text-anchor="middle" fill="#0a0a0a" transform="translate(400.8 757) scale(1 1.04) translate(-400.8 -757)">Myh7</text>
<rect x="365.40" y="688.26" width="16.00" height="50.74" fill="#fff" stroke="#0d0d0d" stroke-width="1.7"/>
<line x1="373.40000000000003" y1="688.2625" x2="373.40000000000003" y2="681.0875" stroke="#0d0d0d" stroke-width="1.7" stroke-linecap="butt"/>
<line x1="368.90000000000003" y1="681.0875" x2="377.90000000000003" y2="681.0875" stroke="#0d0d0d" stroke-width="1.7" stroke-linecap="butt"/>
<rect x="392.80" y="720.55" width="16.00" height="18.45" fill="#d6d6d6" stroke="#0d0d0d" stroke-width="1.7"/>
<line x1="400.8" y1="720.55" x2="400.8" y2="709.7875" stroke="#0d0d0d" stroke-width="1.7" stroke-linecap="butt"/>
<line x1="396.3" y1="709.7875" x2="405.3" y2="709.7875" stroke="#0d0d0d" stroke-width="1.7" stroke-linecap="butt"/>
<rect x="420.20" y="602.16" width="16.00" height="136.84" fill="#7f7f7f" stroke="#0d0d0d" stroke-width="1.7"/>
<line x1="428.2" y1="602.1625" x2="428.2" y2="587.8125" stroke="#0d0d0d" stroke-width="1.7" stroke-linecap="butt"/>
<line x1="423.7" y1="587.8125" x2="432.7" y2="587.8125" stroke="#0d0d0d" stroke-width="1.7" stroke-linecap="butt"/>
<circle cx="68.7" cy="679" r="3.4" fill="#fff" fill-opacity="0.35" stroke="#0d0d0d" stroke-width="1.6"/>
<circle cx="78" cy="679" r="3.4" fill="#fff" fill-opacity="0.35" stroke="#0d0d0d" stroke-width="1.6"/>
<circle cx="73.1" cy="705.8" r="3.4" fill="#fff" fill-opacity="0.35" stroke="#0d0d0d" stroke-width="1.6"/>
<circle cx="169.5" cy="683.5" r="3.4" fill="#fff" fill-opacity="0.35" stroke="#0d0d0d" stroke-width="1.6"/>
<circle cx="174" cy="688.5" r="3.4" fill="#fff" fill-opacity="0.35" stroke="#0d0d0d" stroke-width="1.6"/>
<circle cx="178.5" cy="689.5" r="3.4" fill="#fff" fill-opacity="0.35" stroke="#0d0d0d" stroke-width="1.6"/>
<circle cx="269.7" cy="677.3" r="3.4" fill="#fff" fill-opacity="0.35" stroke="#0d0d0d" stroke-width="1.6"/>
<circle cx="278.7" cy="688.3" r="3.4" fill="#fff" fill-opacity="0.35" stroke="#0d0d0d" stroke-width="1.6"/>
<circle cx="283.7" cy="687.3" r="3.4" fill="#fff" fill-opacity="0.35" stroke="#0d0d0d" stroke-width="1.6"/>
<circle cx="269.7" cy="698" r="3.4" fill="#fff" fill-opacity="0.35" stroke="#0d0d0d" stroke-width="1.6"/>
<circle cx="374.7" cy="677.3" r="3.4" fill="#fff" fill-opacity="0.35" stroke="#0d0d0d" stroke-width="1.6"/>
<circle cx="371" cy="689.7" r="3.4" fill="#fff" fill-opacity="0.35" stroke="#0d0d0d" stroke-width="1.6"/>
<circle cx="378.7" cy="691.7" r="3.4" fill="#fff" fill-opacity="0.35" stroke="#0d0d0d" stroke-width="1.6"/>
<circle cx="374.7" cy="694" r="3.4" fill="#fff" fill-opacity="0.35" stroke="#0d0d0d" stroke-width="1.6"/>
<rect x="96.80" y="669.10" width="6.4" height="6.4" fill="#fff" fill-opacity="0.35" stroke="#0d0d0d" stroke-width="1.6"/>
<rect x="92.50" y="724.80" width="6.4" height="6.4" fill="#fff" fill-opacity="0.35" stroke="#0d0d0d" stroke-width="1.6"/>
<rect x="101.80" y="718.50" width="6.4" height="6.4" fill="#fff" fill-opacity="0.35" stroke="#0d0d0d" stroke-width="1.6"/>
<rect x="197.30" y="706.30" width="6.4" height="6.4" fill="#fff" fill-opacity="0.35" stroke="#0d0d0d" stroke-width="1.6"/>
<rect x="193.80" y="719.80" width="6.4" height="6.4" fill="#fff" fill-opacity="0.35" stroke="#0d0d0d" stroke-width="1.6"/>
<rect x="202.30" y="717.30" width="6.4" height="6.4" fill="#fff" fill-opacity="0.35" stroke="#0d0d0d" stroke-width="1.6"/>
<rect x="298.10" y="629.10" width="6.4" height="6.4" fill="#fff" fill-opacity="0.35" stroke="#0d0d0d" stroke-width="1.6"/>
<rect x="298.10" y="650.10" width="6.4" height="6.4" fill="#fff" fill-opacity="0.35" stroke="#0d0d0d" stroke-width="1.6"/>
<rect x="298.10" y="673.10" width="6.4" height="6.4" fill="#fff" fill-opacity="0.35" stroke="#0d0d0d" stroke-width="1.6"/>
<rect x="394.50" y="707.50" width="6.4" height="6.4" fill="#fff" fill-opacity="0.35" stroke="#0d0d0d" stroke-width="1.6"/>
<rect x="403.80" y="716.50" width="6.4" height="6.4" fill="#fff" fill-opacity="0.35" stroke="#0d0d0d" stroke-width="1.6"/>
<rect x="398.80" y="728.10" width="6.4" height="6.4" fill="#fff" fill-opacity="0.35" stroke="#0d0d0d" stroke-width="1.6"/>
<path d="M125.50 647.06L132.30 647.06L128.90 640.94Z" fill="#fff" fill-opacity="0.35" stroke="#0d0d0d" stroke-width="1.6" stroke-linejoin="miter"/>
<path d="M125.50 697.76L132.30 697.76L128.90 691.64Z" fill="#fff" fill-opacity="0.35" stroke="#0d0d0d" stroke-width="1.6" stroke-linejoin="miter"/>
<path d="M125.50 736.06L132.30 736.06L128.90 729.94Z" fill="#fff" fill-opacity="0.35" stroke="#0d0d0d" stroke-width="1.6" stroke-linejoin="miter"/>
<path d="M225.20 696.36L232.00 696.36L228.60 690.24Z" fill="#fff" fill-opacity="0.35" stroke="#0d0d0d" stroke-width="1.6" stroke-linejoin="miter"/>
<path d="M230.90 708.06L237.70 708.06L234.30 701.94Z" fill="#fff" fill-opacity="0.35" stroke="#0d0d0d" stroke-width="1.6" stroke-linejoin="miter"/>
<path d="M220.90 715.36L227.70 715.36L224.30 709.24Z" fill="#fff" fill-opacity="0.35" stroke="#0d0d0d" stroke-width="1.6" stroke-linejoin="miter"/>
<path d="M325.90 554.76L332.70 554.76L329.30 548.64Z" fill="#fff" fill-opacity="0.35" stroke="#0d0d0d" stroke-width="1.6" stroke-linejoin="miter"/>
<path d="M325.90 572.06L332.70 572.06L329.30 565.94Z" fill="#fff" fill-opacity="0.35" stroke="#0d0d0d" stroke-width="1.6" stroke-linejoin="miter"/>
<path d="M325.90 624.06L332.70 624.06L329.30 617.94Z" fill="#fff" fill-opacity="0.35" stroke="#0d0d0d" stroke-width="1.6" stroke-linejoin="miter"/>
<path d="M426.90 590.76L433.70 590.76L430.30 584.64Z" fill="#fff" fill-opacity="0.35" stroke="#0d0d0d" stroke-width="1.6" stroke-linejoin="miter"/>
<path d="M426.90 607.36L433.70 607.36L430.30 601.24Z" fill="#fff" fill-opacity="0.35" stroke="#0d0d0d" stroke-width="1.6" stroke-linejoin="miter"/>
<path d="M426.90 618.76L433.70 618.76L430.30 612.64Z" fill="#fff" fill-opacity="0.35" stroke="#0d0d0d" stroke-width="1.6" stroke-linejoin="miter"/>
<rect x="84.80" y="538.30" width="17.60" height="8.40" fill="#fff" stroke="#0d0d0d" stroke-width="1.5"/>
<rect x="84.80" y="564.00" width="17.60" height="8.40" fill="#d6d6d6" stroke="#0d0d0d" stroke-width="1.5"/>
<rect x="84.80" y="590.30" width="17.60" height="8.40" fill="#7f7f7f" stroke="#0d0d0d" stroke-width="1.5"/>
<text x="112.7" y="547.3" font-size="14" font-weight="normal" text-anchor="start" fill="#111" transform="translate(112.7 547.3) scale(1 1.04) translate(-112.7 -547.3)">WT</text>
<text x="112.7" y="574.5" font-size="14" fill="#111" transform="translate(112.7 574.5) scale(1 1.04) translate(-112.7 -574.5)">MDX<tspan font-size="10.8" dy="-5">5cv</tspan></text>
<text x="112.7" y="600" font-size="14" font-weight="normal" text-anchor="start" fill="#111" transform="translate(112.7 600) scale(1 1.04) translate(-112.7 -600)">µDYS</text>
<line x1="171" y1="667.2" x2="201.8" y2="667.2" stroke="#000" stroke-width="2.1" stroke-linecap="butt"/>
<text x="186.25" y="670.95" font-size="27" font-weight="normal" text-anchor="middle" letter-spacing="0.5" stroke="#000" stroke-width="0.5">**</text>
<line x1="259" y1="516.6" x2="322.7" y2="516.6" stroke="#000" stroke-width="2.1" stroke-linecap="butt"/>
<text x="290.75" y="523.05" font-size="27" font-weight="normal" text-anchor="middle" letter-spacing="0.5" stroke="#000" stroke-width="0.5">**</text>
<line x1="297.4" y1="536.4" x2="327.2" y2="536.4" stroke="#000" stroke-width="2.1" stroke-linecap="butt"/>
<text x="312.45" y="543.45" font-size="27" font-weight="normal" text-anchor="middle" letter-spacing="0.5" stroke="#000" stroke-width="0.5">*</text>
<line x1="361.7" y1="552.7" x2="425.7" y2="552.7" stroke="#000" stroke-width="2.1" stroke-linecap="butt"/>
<text x="392.15" y="557.95" font-size="27" font-weight="normal" text-anchor="middle" letter-spacing="0.5" stroke="#000" stroke-width="0.5">***</text>
<line x1="400.2" y1="576.7" x2="430.2" y2="576.7" stroke="#000" stroke-width="2.1" stroke-linecap="butt"/>
<text x="416.25" y="582.45" font-size="27" font-weight="normal" text-anchor="middle" letter-spacing="0.5" stroke="#000" stroke-width="0.5">***</text>
<line x1="367.7" y1="668.3" x2="397.7" y2="668.3" stroke="#000" stroke-width="2.1" stroke-linecap="butt"/>
<text x="382.25" y="672.45" font-size="27" font-weight="normal" text-anchor="middle" letter-spacing="0.5" stroke="#000" stroke-width="0.5">*</text>
</svg>
</body></html>
